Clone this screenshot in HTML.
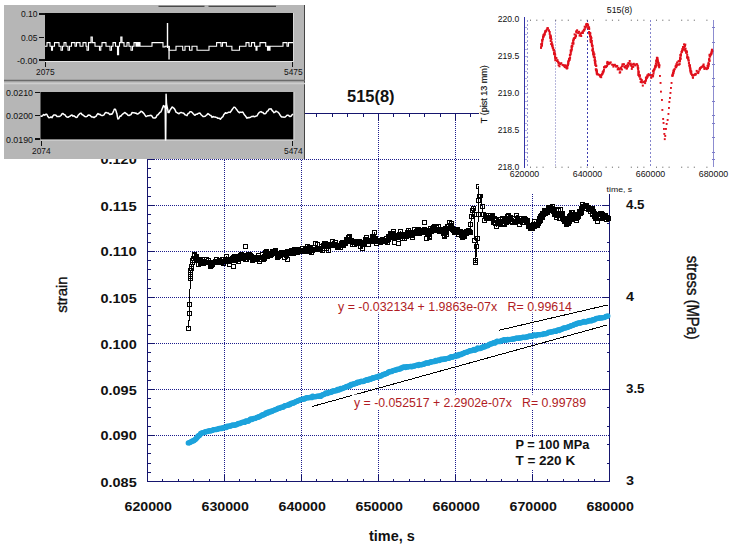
<!DOCTYPE html>
<html><head><meta charset="utf-8"><title>515(8)</title>
<style>html,body{margin:0;padding:0;background:#fff;}body{width:733px;height:549px;position:relative;overflow:hidden;font-family:"Liberation Sans",sans-serif;}</style>
</head><body>
<svg width="733" height="549" viewBox="0 0 733 549" style="position:absolute;left:0;top:0">
<rect width="733" height="549" fill="#fff"/>
<g stroke="#1c1c8c" stroke-width="1" stroke-dasharray="1 1" shape-rendering="crispEdges" fill="none">
<line x1="147.5" y1="435.5" x2="609.5" y2="435.5"/>
<line x1="147.5" y1="389.5" x2="609.5" y2="389.5"/>
<line x1="147.5" y1="343.5" x2="609.5" y2="343.5"/>
<line x1="147.5" y1="297.5" x2="609.5" y2="297.5"/>
<line x1="147.5" y1="251.5" x2="609.5" y2="251.5"/>
<line x1="147.5" y1="205.5" x2="609.5" y2="205.5"/>
<line x1="147.5" y1="159.5" x2="609.5" y2="159.5"/>
<line x1="224.5" y1="113.5" x2="224.5" y2="481.5"/>
<line x1="301.5" y1="113.5" x2="301.5" y2="481.5"/>
<line x1="378.5" y1="113.5" x2="378.5" y2="481.5"/>
<line x1="455.5" y1="113.5" x2="455.5" y2="481.5"/>
<line x1="532.5" y1="113.5" x2="532.5" y2="481.5"/>
</g>
<g stroke="#16166e" stroke-width="1" shape-rendering="crispEdges" fill="none">
<rect x="147.5" y="113.5" width="462.0" height="368.0"/>
<line x1="147.5" y1="481.5" x2="154.5" y2="481.5"/>
<line x1="147.5" y1="472.5" x2="150.5" y2="472.5"/>
<line x1="147.5" y1="463.5" x2="150.5" y2="463.5"/>
<line x1="147.5" y1="453.5" x2="150.5" y2="453.5"/>
<line x1="147.5" y1="444.5" x2="150.5" y2="444.5"/>
<line x1="147.5" y1="435.5" x2="154.5" y2="435.5"/>
<line x1="147.5" y1="426.5" x2="150.5" y2="426.5"/>
<line x1="147.5" y1="417.5" x2="150.5" y2="417.5"/>
<line x1="147.5" y1="407.5" x2="150.5" y2="407.5"/>
<line x1="147.5" y1="398.5" x2="150.5" y2="398.5"/>
<line x1="147.5" y1="389.5" x2="154.5" y2="389.5"/>
<line x1="147.5" y1="380.5" x2="150.5" y2="380.5"/>
<line x1="147.5" y1="371.5" x2="150.5" y2="371.5"/>
<line x1="147.5" y1="361.5" x2="150.5" y2="361.5"/>
<line x1="147.5" y1="352.5" x2="150.5" y2="352.5"/>
<line x1="147.5" y1="343.5" x2="154.5" y2="343.5"/>
<line x1="147.5" y1="334.5" x2="150.5" y2="334.5"/>
<line x1="147.5" y1="325.5" x2="150.5" y2="325.5"/>
<line x1="147.5" y1="315.5" x2="150.5" y2="315.5"/>
<line x1="147.5" y1="306.5" x2="150.5" y2="306.5"/>
<line x1="147.5" y1="297.5" x2="154.5" y2="297.5"/>
<line x1="147.5" y1="288.5" x2="150.5" y2="288.5"/>
<line x1="147.5" y1="279.5" x2="150.5" y2="279.5"/>
<line x1="147.5" y1="269.5" x2="150.5" y2="269.5"/>
<line x1="147.5" y1="260.5" x2="150.5" y2="260.5"/>
<line x1="147.5" y1="251.5" x2="154.5" y2="251.5"/>
<line x1="147.5" y1="242.5" x2="150.5" y2="242.5"/>
<line x1="147.5" y1="233.5" x2="150.5" y2="233.5"/>
<line x1="147.5" y1="223.5" x2="150.5" y2="223.5"/>
<line x1="147.5" y1="214.5" x2="150.5" y2="214.5"/>
<line x1="147.5" y1="205.5" x2="154.5" y2="205.5"/>
<line x1="147.5" y1="196.5" x2="150.5" y2="196.5"/>
<line x1="147.5" y1="187.5" x2="150.5" y2="187.5"/>
<line x1="147.5" y1="177.5" x2="150.5" y2="177.5"/>
<line x1="147.5" y1="168.5" x2="150.5" y2="168.5"/>
<line x1="147.5" y1="159.5" x2="154.5" y2="159.5"/>
<line x1="147.5" y1="150.5" x2="150.5" y2="150.5"/>
<line x1="147.5" y1="141.5" x2="150.5" y2="141.5"/>
<line x1="147.5" y1="131.5" x2="150.5" y2="131.5"/>
<line x1="147.5" y1="122.5" x2="150.5" y2="122.5"/>
<line x1="147.5" y1="113.5" x2="154.5" y2="113.5"/>
<line x1="609.5" y1="481.5" x2="602.5" y2="481.5"/>
<line x1="609.5" y1="463.5" x2="606.5" y2="463.5"/>
<line x1="609.5" y1="444.5" x2="606.5" y2="444.5"/>
<line x1="609.5" y1="426.5" x2="606.5" y2="426.5"/>
<line x1="609.5" y1="407.5" x2="606.5" y2="407.5"/>
<line x1="609.5" y1="389.5" x2="602.5" y2="389.5"/>
<line x1="609.5" y1="371.5" x2="606.5" y2="371.5"/>
<line x1="609.5" y1="352.5" x2="606.5" y2="352.5"/>
<line x1="609.5" y1="334.5" x2="606.5" y2="334.5"/>
<line x1="609.5" y1="315.5" x2="606.5" y2="315.5"/>
<line x1="609.5" y1="297.5" x2="602.5" y2="297.5"/>
<line x1="609.5" y1="279.5" x2="606.5" y2="279.5"/>
<line x1="609.5" y1="260.5" x2="606.5" y2="260.5"/>
<line x1="609.5" y1="242.5" x2="606.5" y2="242.5"/>
<line x1="609.5" y1="223.5" x2="606.5" y2="223.5"/>
<line x1="609.5" y1="205.5" x2="602.5" y2="205.5"/>
<line x1="609.5" y1="187.5" x2="606.5" y2="187.5"/>
<line x1="609.5" y1="168.5" x2="606.5" y2="168.5"/>
<line x1="609.5" y1="150.5" x2="606.5" y2="150.5"/>
<line x1="609.5" y1="131.5" x2="606.5" y2="131.5"/>
<line x1="609.5" y1="113.5" x2="602.5" y2="113.5"/>
<line x1="147.5" y1="481.5" x2="147.5" y2="474.5"/>
<line x1="147.5" y1="113.5" x2="147.5" y2="120.5"/>
<line x1="162.5" y1="481.5" x2="162.5" y2="478.5"/>
<line x1="162.5" y1="113.5" x2="162.5" y2="116.5"/>
<line x1="178.5" y1="481.5" x2="178.5" y2="478.5"/>
<line x1="178.5" y1="113.5" x2="178.5" y2="116.5"/>
<line x1="193.5" y1="481.5" x2="193.5" y2="478.5"/>
<line x1="193.5" y1="113.5" x2="193.5" y2="116.5"/>
<line x1="209.5" y1="481.5" x2="209.5" y2="478.5"/>
<line x1="209.5" y1="113.5" x2="209.5" y2="116.5"/>
<line x1="224.5" y1="481.5" x2="224.5" y2="474.5"/>
<line x1="224.5" y1="113.5" x2="224.5" y2="120.5"/>
<line x1="239.5" y1="481.5" x2="239.5" y2="478.5"/>
<line x1="239.5" y1="113.5" x2="239.5" y2="116.5"/>
<line x1="255.5" y1="481.5" x2="255.5" y2="478.5"/>
<line x1="255.5" y1="113.5" x2="255.5" y2="116.5"/>
<line x1="270.5" y1="481.5" x2="270.5" y2="478.5"/>
<line x1="270.5" y1="113.5" x2="270.5" y2="116.5"/>
<line x1="286.5" y1="481.5" x2="286.5" y2="478.5"/>
<line x1="286.5" y1="113.5" x2="286.5" y2="116.5"/>
<line x1="301.5" y1="481.5" x2="301.5" y2="474.5"/>
<line x1="301.5" y1="113.5" x2="301.5" y2="120.5"/>
<line x1="316.5" y1="481.5" x2="316.5" y2="478.5"/>
<line x1="316.5" y1="113.5" x2="316.5" y2="116.5"/>
<line x1="332.5" y1="481.5" x2="332.5" y2="478.5"/>
<line x1="332.5" y1="113.5" x2="332.5" y2="116.5"/>
<line x1="347.5" y1="481.5" x2="347.5" y2="478.5"/>
<line x1="347.5" y1="113.5" x2="347.5" y2="116.5"/>
<line x1="363.5" y1="481.5" x2="363.5" y2="478.5"/>
<line x1="363.5" y1="113.5" x2="363.5" y2="116.5"/>
<line x1="378.5" y1="481.5" x2="378.5" y2="474.5"/>
<line x1="378.5" y1="113.5" x2="378.5" y2="120.5"/>
<line x1="393.5" y1="481.5" x2="393.5" y2="478.5"/>
<line x1="393.5" y1="113.5" x2="393.5" y2="116.5"/>
<line x1="409.5" y1="481.5" x2="409.5" y2="478.5"/>
<line x1="409.5" y1="113.5" x2="409.5" y2="116.5"/>
<line x1="424.5" y1="481.5" x2="424.5" y2="478.5"/>
<line x1="424.5" y1="113.5" x2="424.5" y2="116.5"/>
<line x1="440.5" y1="481.5" x2="440.5" y2="478.5"/>
<line x1="440.5" y1="113.5" x2="440.5" y2="116.5"/>
<line x1="455.5" y1="481.5" x2="455.5" y2="474.5"/>
<line x1="455.5" y1="113.5" x2="455.5" y2="120.5"/>
<line x1="470.5" y1="481.5" x2="470.5" y2="478.5"/>
<line x1="470.5" y1="113.5" x2="470.5" y2="116.5"/>
<line x1="486.5" y1="481.5" x2="486.5" y2="478.5"/>
<line x1="486.5" y1="113.5" x2="486.5" y2="116.5"/>
<line x1="501.5" y1="481.5" x2="501.5" y2="478.5"/>
<line x1="501.5" y1="113.5" x2="501.5" y2="116.5"/>
<line x1="517.5" y1="481.5" x2="517.5" y2="478.5"/>
<line x1="517.5" y1="113.5" x2="517.5" y2="116.5"/>
<line x1="532.5" y1="481.5" x2="532.5" y2="474.5"/>
<line x1="532.5" y1="113.5" x2="532.5" y2="120.5"/>
<line x1="547.5" y1="481.5" x2="547.5" y2="478.5"/>
<line x1="547.5" y1="113.5" x2="547.5" y2="116.5"/>
<line x1="563.5" y1="481.5" x2="563.5" y2="478.5"/>
<line x1="563.5" y1="113.5" x2="563.5" y2="116.5"/>
<line x1="578.5" y1="481.5" x2="578.5" y2="478.5"/>
<line x1="578.5" y1="113.5" x2="578.5" y2="116.5"/>
<line x1="594.5" y1="481.5" x2="594.5" y2="478.5"/>
<line x1="594.5" y1="113.5" x2="594.5" y2="116.5"/>
<line x1="609.5" y1="481.5" x2="609.5" y2="474.5"/>
<line x1="609.5" y1="113.5" x2="609.5" y2="120.5"/>
</g>
<g stroke="#000" stroke-width="1" fill="none" shape-rendering="crispEdges">
<line x1="499.2" y1="330.2" x2="607.5" y2="305.0"/>
<line x1="312.1" y1="406.5" x2="607" y2="325.0"/>
</g>
<g fill="#1da3dc">
<circle cx="188.3" cy="442.9" r="2.65"/>
<circle cx="189.2" cy="442.8" r="2.65"/>
<circle cx="190.2" cy="442.2" r="2.65"/>
<circle cx="191.1" cy="441.8" r="2.65"/>
<circle cx="192.0" cy="441.2" r="2.65"/>
<circle cx="192.8" cy="440.9" r="2.65"/>
<circle cx="193.7" cy="440.7" r="2.65"/>
<circle cx="194.5" cy="440.0" r="2.65"/>
<circle cx="195.3" cy="439.6" r="2.65"/>
<circle cx="196.0" cy="438.7" r="2.65"/>
<circle cx="196.7" cy="438.0" r="2.65"/>
<circle cx="197.3" cy="437.3" r="2.65"/>
<circle cx="198.0" cy="436.0" r="2.65"/>
<circle cx="198.7" cy="436.1" r="2.65"/>
<circle cx="199.3" cy="435.4" r="2.65"/>
<circle cx="200.0" cy="434.8" r="2.65"/>
<circle cx="200.7" cy="433.5" r="2.65"/>
<circle cx="201.5" cy="433.1" r="2.65"/>
<circle cx="202.3" cy="432.9" r="2.65"/>
<circle cx="203.2" cy="432.6" r="2.65"/>
<circle cx="204.0" cy="432.4" r="2.65"/>
<circle cx="204.9" cy="432.0" r="2.65"/>
<circle cx="205.8" cy="431.9" r="2.65"/>
<circle cx="206.6" cy="431.3" r="2.65"/>
<circle cx="207.5" cy="431.4" r="2.65"/>
<circle cx="208.4" cy="431.1" r="2.65"/>
<circle cx="209.3" cy="430.6" r="2.65"/>
<circle cx="210.2" cy="431.1" r="2.65"/>
<circle cx="211.1" cy="430.6" r="2.65"/>
<circle cx="212.0" cy="430.6" r="2.65"/>
<circle cx="212.9" cy="429.9" r="2.65"/>
<circle cx="213.8" cy="429.6" r="2.65"/>
<circle cx="214.7" cy="429.6" r="2.65"/>
<circle cx="215.6" cy="429.5" r="2.65"/>
<circle cx="216.5" cy="429.5" r="2.65"/>
<circle cx="217.4" cy="429.2" r="2.65"/>
<circle cx="218.3" cy="428.8" r="2.65"/>
<circle cx="219.2" cy="428.5" r="2.65"/>
<circle cx="220.1" cy="428.4" r="2.65"/>
<circle cx="221.0" cy="428.7" r="2.65"/>
<circle cx="221.9" cy="427.9" r="2.65"/>
<circle cx="222.8" cy="428.1" r="2.65"/>
<circle cx="223.7" cy="427.9" r="2.65"/>
<circle cx="224.6" cy="427.1" r="2.65"/>
<circle cx="225.4" cy="427.3" r="2.65"/>
<circle cx="226.3" cy="427.5" r="2.65"/>
<circle cx="227.2" cy="426.2" r="2.65"/>
<circle cx="228.1" cy="426.5" r="2.65"/>
<circle cx="228.9" cy="426.3" r="2.65"/>
<circle cx="229.8" cy="425.9" r="2.65"/>
<circle cx="230.7" cy="426.0" r="2.65"/>
<circle cx="231.5" cy="425.6" r="2.65"/>
<circle cx="232.4" cy="425.0" r="2.65"/>
<circle cx="233.3" cy="425.4" r="2.65"/>
<circle cx="234.2" cy="425.1" r="2.65"/>
<circle cx="235.0" cy="425.0" r="2.65"/>
<circle cx="235.9" cy="424.9" r="2.65"/>
<circle cx="236.8" cy="424.3" r="2.65"/>
<circle cx="237.7" cy="424.0" r="2.65"/>
<circle cx="238.5" cy="423.3" r="2.65"/>
<circle cx="239.4" cy="423.7" r="2.65"/>
<circle cx="240.3" cy="423.1" r="2.65"/>
<circle cx="241.1" cy="422.9" r="2.65"/>
<circle cx="242.0" cy="422.4" r="2.65"/>
<circle cx="242.9" cy="422.2" r="2.65"/>
<circle cx="243.8" cy="422.1" r="2.65"/>
<circle cx="244.6" cy="422.4" r="2.65"/>
<circle cx="245.5" cy="421.2" r="2.65"/>
<circle cx="246.4" cy="421.0" r="2.65"/>
<circle cx="247.3" cy="421.2" r="2.65"/>
<circle cx="248.2" cy="421.2" r="2.65"/>
<circle cx="249.1" cy="420.6" r="2.65"/>
<circle cx="250.0" cy="419.5" r="2.65"/>
<circle cx="250.9" cy="418.9" r="2.65"/>
<circle cx="251.9" cy="419.5" r="2.65"/>
<circle cx="252.8" cy="418.8" r="2.65"/>
<circle cx="253.7" cy="418.3" r="2.65"/>
<circle cx="254.6" cy="418.6" r="2.65"/>
<circle cx="255.5" cy="418.3" r="2.65"/>
<circle cx="256.4" cy="417.6" r="2.65"/>
<circle cx="257.3" cy="417.3" r="2.65"/>
<circle cx="258.1" cy="417.0" r="2.65"/>
<circle cx="259.0" cy="417.0" r="2.65"/>
<circle cx="259.8" cy="416.3" r="2.65"/>
<circle cx="260.7" cy="416.0" r="2.65"/>
<circle cx="261.5" cy="415.6" r="2.65"/>
<circle cx="262.4" cy="414.6" r="2.65"/>
<circle cx="263.2" cy="415.1" r="2.65"/>
<circle cx="264.1" cy="414.6" r="2.65"/>
<circle cx="264.9" cy="414.2" r="2.65"/>
<circle cx="265.8" cy="413.0" r="2.65"/>
<circle cx="266.6" cy="413.1" r="2.65"/>
<circle cx="267.5" cy="413.2" r="2.65"/>
<circle cx="268.3" cy="412.0" r="2.65"/>
<circle cx="269.2" cy="412.1" r="2.65"/>
<circle cx="270.0" cy="412.1" r="2.65"/>
<circle cx="270.9" cy="411.1" r="2.65"/>
<circle cx="271.7" cy="411.6" r="2.65"/>
<circle cx="272.6" cy="410.9" r="2.65"/>
<circle cx="273.4" cy="410.3" r="2.65"/>
<circle cx="274.3" cy="410.1" r="2.65"/>
<circle cx="275.1" cy="409.9" r="2.65"/>
<circle cx="276.0" cy="409.3" r="2.65"/>
<circle cx="276.9" cy="409.3" r="2.65"/>
<circle cx="277.8" cy="408.5" r="2.65"/>
<circle cx="278.6" cy="408.2" r="2.65"/>
<circle cx="279.5" cy="408.3" r="2.65"/>
<circle cx="280.4" cy="407.7" r="2.65"/>
<circle cx="281.3" cy="407.1" r="2.65"/>
<circle cx="282.2" cy="407.3" r="2.65"/>
<circle cx="283.0" cy="407.2" r="2.65"/>
<circle cx="283.9" cy="406.3" r="2.65"/>
<circle cx="284.8" cy="405.7" r="2.65"/>
<circle cx="285.7" cy="405.7" r="2.65"/>
<circle cx="286.6" cy="405.4" r="2.65"/>
<circle cx="287.4" cy="405.1" r="2.65"/>
<circle cx="288.3" cy="405.2" r="2.65"/>
<circle cx="289.2" cy="404.2" r="2.65"/>
<circle cx="290.1" cy="404.5" r="2.65"/>
<circle cx="290.9" cy="403.4" r="2.65"/>
<circle cx="291.8" cy="403.1" r="2.65"/>
<circle cx="292.6" cy="403.2" r="2.65"/>
<circle cx="293.5" cy="403.0" r="2.65"/>
<circle cx="294.3" cy="402.5" r="2.65"/>
<circle cx="295.2" cy="402.0" r="2.65"/>
<circle cx="296.1" cy="401.6" r="2.65"/>
<circle cx="296.9" cy="401.2" r="2.65"/>
<circle cx="297.8" cy="401.0" r="2.65"/>
<circle cx="298.6" cy="400.4" r="2.65"/>
<circle cx="299.5" cy="400.1" r="2.65"/>
<circle cx="300.3" cy="399.8" r="2.65"/>
<circle cx="301.2" cy="399.3" r="2.65"/>
<circle cx="302.2" cy="399.3" r="2.65"/>
<circle cx="303.1" cy="399.0" r="2.65"/>
<circle cx="304.1" cy="399.2" r="2.65"/>
<circle cx="305.1" cy="398.4" r="2.65"/>
<circle cx="306.1" cy="398.0" r="2.65"/>
<circle cx="307.0" cy="397.7" r="2.65"/>
<circle cx="308.0" cy="397.6" r="2.65"/>
<circle cx="308.9" cy="397.8" r="2.65"/>
<circle cx="309.8" cy="397.3" r="2.65"/>
<circle cx="310.7" cy="397.3" r="2.65"/>
<circle cx="311.6" cy="397.7" r="2.65"/>
<circle cx="312.5" cy="396.2" r="2.65"/>
<circle cx="313.4" cy="396.5" r="2.65"/>
<circle cx="314.3" cy="396.8" r="2.65"/>
<circle cx="315.2" cy="396.7" r="2.65"/>
<circle cx="316.1" cy="396.6" r="2.65"/>
<circle cx="317.0" cy="396.2" r="2.65"/>
<circle cx="317.9" cy="396.4" r="2.65"/>
<circle cx="318.8" cy="396.2" r="2.65"/>
<circle cx="319.7" cy="395.8" r="2.65"/>
<circle cx="320.6" cy="396.4" r="2.65"/>
<circle cx="321.4" cy="395.5" r="2.65"/>
<circle cx="322.3" cy="394.9" r="2.65"/>
<circle cx="323.1" cy="394.7" r="2.65"/>
<circle cx="324.0" cy="394.3" r="2.65"/>
<circle cx="324.9" cy="394.1" r="2.65"/>
<circle cx="325.7" cy="393.0" r="2.65"/>
<circle cx="326.6" cy="393.3" r="2.65"/>
<circle cx="327.4" cy="393.5" r="2.65"/>
<circle cx="328.3" cy="392.5" r="2.65"/>
<circle cx="329.1" cy="392.5" r="2.65"/>
<circle cx="330.0" cy="392.5" r="2.65"/>
<circle cx="330.9" cy="392.2" r="2.65"/>
<circle cx="331.8" cy="392.1" r="2.65"/>
<circle cx="332.7" cy="390.9" r="2.65"/>
<circle cx="333.6" cy="391.0" r="2.65"/>
<circle cx="334.5" cy="390.8" r="2.65"/>
<circle cx="335.5" cy="390.8" r="2.65"/>
<circle cx="336.4" cy="390.7" r="2.65"/>
<circle cx="337.3" cy="389.3" r="2.65"/>
<circle cx="338.2" cy="390.2" r="2.65"/>
<circle cx="339.1" cy="389.1" r="2.65"/>
<circle cx="340.0" cy="389.5" r="2.65"/>
<circle cx="340.8" cy="388.5" r="2.65"/>
<circle cx="341.7" cy="388.7" r="2.65"/>
<circle cx="342.5" cy="388.6" r="2.65"/>
<circle cx="343.4" cy="387.9" r="2.65"/>
<circle cx="344.2" cy="387.6" r="2.65"/>
<circle cx="345.1" cy="387.5" r="2.65"/>
<circle cx="345.9" cy="386.9" r="2.65"/>
<circle cx="346.7" cy="386.5" r="2.65"/>
<circle cx="347.6" cy="386.7" r="2.65"/>
<circle cx="348.4" cy="386.2" r="2.65"/>
<circle cx="349.3" cy="385.4" r="2.65"/>
<circle cx="350.1" cy="386.0" r="2.65"/>
<circle cx="351.0" cy="384.5" r="2.65"/>
<circle cx="351.8" cy="384.8" r="2.65"/>
<circle cx="352.7" cy="384.2" r="2.65"/>
<circle cx="353.5" cy="384.0" r="2.65"/>
<circle cx="354.4" cy="383.9" r="2.65"/>
<circle cx="355.3" cy="383.5" r="2.65"/>
<circle cx="356.2" cy="383.4" r="2.65"/>
<circle cx="357.0" cy="382.5" r="2.65"/>
<circle cx="357.9" cy="382.2" r="2.65"/>
<circle cx="358.8" cy="382.6" r="2.65"/>
<circle cx="359.7" cy="381.8" r="2.65"/>
<circle cx="360.5" cy="381.6" r="2.65"/>
<circle cx="361.4" cy="381.2" r="2.65"/>
<circle cx="362.3" cy="381.7" r="2.65"/>
<circle cx="363.2" cy="381.3" r="2.65"/>
<circle cx="364.0" cy="381.3" r="2.65"/>
<circle cx="364.9" cy="380.3" r="2.65"/>
<circle cx="365.8" cy="380.3" r="2.65"/>
<circle cx="366.6" cy="379.7" r="2.65"/>
<circle cx="367.5" cy="380.0" r="2.65"/>
<circle cx="368.4" cy="380.0" r="2.65"/>
<circle cx="369.3" cy="379.0" r="2.65"/>
<circle cx="370.1" cy="379.4" r="2.65"/>
<circle cx="371.0" cy="379.0" r="2.65"/>
<circle cx="371.9" cy="378.4" r="2.65"/>
<circle cx="372.8" cy="377.6" r="2.65"/>
<circle cx="373.6" cy="378.3" r="2.65"/>
<circle cx="374.5" cy="377.6" r="2.65"/>
<circle cx="375.4" cy="377.2" r="2.65"/>
<circle cx="376.3" cy="377.2" r="2.65"/>
<circle cx="377.1" cy="377.0" r="2.65"/>
<circle cx="378.0" cy="377.0" r="2.65"/>
<circle cx="378.9" cy="376.0" r="2.65"/>
<circle cx="379.8" cy="376.3" r="2.65"/>
<circle cx="380.6" cy="376.0" r="2.65"/>
<circle cx="381.5" cy="375.7" r="2.65"/>
<circle cx="382.4" cy="374.8" r="2.65"/>
<circle cx="383.2" cy="374.3" r="2.65"/>
<circle cx="384.1" cy="374.5" r="2.65"/>
<circle cx="385.0" cy="373.9" r="2.65"/>
<circle cx="385.9" cy="373.6" r="2.65"/>
<circle cx="386.8" cy="373.6" r="2.65"/>
<circle cx="387.6" cy="372.8" r="2.65"/>
<circle cx="388.5" cy="371.8" r="2.65"/>
<circle cx="389.4" cy="372.1" r="2.65"/>
<circle cx="390.2" cy="371.3" r="2.65"/>
<circle cx="391.1" cy="371.7" r="2.65"/>
<circle cx="392.0" cy="371.3" r="2.65"/>
<circle cx="392.9" cy="370.6" r="2.65"/>
<circle cx="393.8" cy="370.5" r="2.65"/>
<circle cx="394.6" cy="370.4" r="2.65"/>
<circle cx="395.5" cy="369.8" r="2.65"/>
<circle cx="396.4" cy="369.9" r="2.65"/>
<circle cx="397.4" cy="369.2" r="2.65"/>
<circle cx="398.3" cy="369.3" r="2.65"/>
<circle cx="399.2" cy="369.1" r="2.65"/>
<circle cx="400.1" cy="368.9" r="2.65"/>
<circle cx="401.1" cy="367.9" r="2.65"/>
<circle cx="402.0" cy="368.1" r="2.65"/>
<circle cx="402.9" cy="367.1" r="2.65"/>
<circle cx="403.8" cy="367.2" r="2.65"/>
<circle cx="404.7" cy="366.8" r="2.65"/>
<circle cx="405.6" cy="367.6" r="2.65"/>
<circle cx="406.5" cy="366.7" r="2.65"/>
<circle cx="407.4" cy="366.9" r="2.65"/>
<circle cx="408.3" cy="366.8" r="2.65"/>
<circle cx="409.2" cy="366.7" r="2.65"/>
<circle cx="410.1" cy="366.4" r="2.65"/>
<circle cx="411.0" cy="366.5" r="2.65"/>
<circle cx="411.9" cy="366.8" r="2.65"/>
<circle cx="412.8" cy="366.1" r="2.65"/>
<circle cx="413.7" cy="366.1" r="2.65"/>
<circle cx="414.6" cy="366.1" r="2.65"/>
<circle cx="415.5" cy="365.6" r="2.65"/>
<circle cx="416.4" cy="365.2" r="2.65"/>
<circle cx="417.3" cy="365.2" r="2.65"/>
<circle cx="418.2" cy="365.5" r="2.65"/>
<circle cx="419.1" cy="364.5" r="2.65"/>
<circle cx="420.0" cy="364.6" r="2.65"/>
<circle cx="420.9" cy="364.9" r="2.65"/>
<circle cx="421.9" cy="364.6" r="2.65"/>
<circle cx="422.8" cy="364.2" r="2.65"/>
<circle cx="423.7" cy="364.2" r="2.65"/>
<circle cx="424.6" cy="363.8" r="2.65"/>
<circle cx="425.5" cy="363.2" r="2.65"/>
<circle cx="426.4" cy="362.8" r="2.65"/>
<circle cx="427.3" cy="362.9" r="2.65"/>
<circle cx="428.2" cy="363.2" r="2.65"/>
<circle cx="429.2" cy="362.5" r="2.65"/>
<circle cx="430.1" cy="362.2" r="2.65"/>
<circle cx="431.0" cy="362.0" r="2.65"/>
<circle cx="431.9" cy="361.6" r="2.65"/>
<circle cx="432.8" cy="361.8" r="2.65"/>
<circle cx="433.7" cy="361.3" r="2.65"/>
<circle cx="434.6" cy="361.6" r="2.65"/>
<circle cx="435.6" cy="360.5" r="2.65"/>
<circle cx="436.5" cy="361.1" r="2.65"/>
<circle cx="437.4" cy="360.6" r="2.65"/>
<circle cx="438.3" cy="360.0" r="2.65"/>
<circle cx="439.2" cy="360.6" r="2.65"/>
<circle cx="440.1" cy="360.1" r="2.65"/>
<circle cx="441.0" cy="359.2" r="2.65"/>
<circle cx="441.9" cy="359.4" r="2.65"/>
<circle cx="442.8" cy="359.5" r="2.65"/>
<circle cx="443.7" cy="359.0" r="2.65"/>
<circle cx="444.6" cy="359.2" r="2.65"/>
<circle cx="445.5" cy="358.9" r="2.65"/>
<circle cx="446.4" cy="358.6" r="2.65"/>
<circle cx="447.4" cy="358.3" r="2.65"/>
<circle cx="448.3" cy="358.4" r="2.65"/>
<circle cx="449.2" cy="357.9" r="2.65"/>
<circle cx="450.1" cy="357.6" r="2.65"/>
<circle cx="451.0" cy="356.6" r="2.65"/>
<circle cx="451.9" cy="357.2" r="2.65"/>
<circle cx="452.8" cy="357.1" r="2.65"/>
<circle cx="453.7" cy="356.4" r="2.65"/>
<circle cx="454.6" cy="356.1" r="2.65"/>
<circle cx="455.5" cy="356.6" r="2.65"/>
<circle cx="456.4" cy="355.2" r="2.65"/>
<circle cx="457.3" cy="355.5" r="2.65"/>
<circle cx="458.2" cy="355.8" r="2.65"/>
<circle cx="459.1" cy="354.5" r="2.65"/>
<circle cx="459.9" cy="354.6" r="2.65"/>
<circle cx="460.8" cy="354.7" r="2.65"/>
<circle cx="461.7" cy="353.8" r="2.65"/>
<circle cx="462.6" cy="353.7" r="2.65"/>
<circle cx="463.5" cy="353.5" r="2.65"/>
<circle cx="464.4" cy="352.6" r="2.65"/>
<circle cx="465.3" cy="352.5" r="2.65"/>
<circle cx="466.1" cy="352.3" r="2.65"/>
<circle cx="467.0" cy="352.2" r="2.65"/>
<circle cx="467.9" cy="351.6" r="2.65"/>
<circle cx="468.8" cy="351.3" r="2.65"/>
<circle cx="469.7" cy="350.7" r="2.65"/>
<circle cx="470.6" cy="350.6" r="2.65"/>
<circle cx="471.4" cy="350.8" r="2.65"/>
<circle cx="472.3" cy="350.3" r="2.65"/>
<circle cx="473.2" cy="349.8" r="2.65"/>
<circle cx="474.1" cy="349.5" r="2.65"/>
<circle cx="474.9" cy="350.3" r="2.65"/>
<circle cx="475.8" cy="349.6" r="2.65"/>
<circle cx="476.7" cy="349.2" r="2.65"/>
<circle cx="477.6" cy="348.0" r="2.65"/>
<circle cx="478.4" cy="348.7" r="2.65"/>
<circle cx="479.3" cy="348.4" r="2.65"/>
<circle cx="480.2" cy="348.5" r="2.65"/>
<circle cx="481.1" cy="347.9" r="2.65"/>
<circle cx="481.9" cy="347.5" r="2.65"/>
<circle cx="482.8" cy="347.5" r="2.65"/>
<circle cx="483.7" cy="346.3" r="2.65"/>
<circle cx="484.6" cy="346.9" r="2.65"/>
<circle cx="485.5" cy="346.3" r="2.65"/>
<circle cx="486.4" cy="345.6" r="2.65"/>
<circle cx="487.3" cy="345.8" r="2.65"/>
<circle cx="488.2" cy="345.6" r="2.65"/>
<circle cx="489.1" cy="344.3" r="2.65"/>
<circle cx="490.0" cy="344.1" r="2.65"/>
<circle cx="490.9" cy="344.0" r="2.65"/>
<circle cx="491.8" cy="343.7" r="2.65"/>
<circle cx="492.8" cy="343.1" r="2.65"/>
<circle cx="493.7" cy="342.6" r="2.65"/>
<circle cx="494.6" cy="343.2" r="2.65"/>
<circle cx="495.5" cy="342.5" r="2.65"/>
<circle cx="496.5" cy="341.5" r="2.65"/>
<circle cx="497.4" cy="341.1" r="2.65"/>
<circle cx="498.3" cy="341.7" r="2.65"/>
<circle cx="499.2" cy="341.4" r="2.65"/>
<circle cx="500.2" cy="341.5" r="2.65"/>
<circle cx="501.1" cy="341.0" r="2.65"/>
<circle cx="502.0" cy="340.4" r="2.65"/>
<circle cx="502.9" cy="340.6" r="2.65"/>
<circle cx="503.9" cy="339.7" r="2.65"/>
<circle cx="504.8" cy="340.0" r="2.65"/>
<circle cx="505.7" cy="340.0" r="2.65"/>
<circle cx="506.6" cy="340.1" r="2.65"/>
<circle cx="507.6" cy="339.5" r="2.65"/>
<circle cx="508.5" cy="339.6" r="2.65"/>
<circle cx="509.4" cy="339.6" r="2.65"/>
<circle cx="510.4" cy="339.4" r="2.65"/>
<circle cx="511.3" cy="339.4" r="2.65"/>
<circle cx="512.2" cy="339.1" r="2.65"/>
<circle cx="513.1" cy="338.8" r="2.65"/>
<circle cx="514.1" cy="339.0" r="2.65"/>
<circle cx="515.0" cy="338.6" r="2.65"/>
<circle cx="515.9" cy="338.2" r="2.65"/>
<circle cx="516.8" cy="338.2" r="2.65"/>
<circle cx="517.7" cy="338.2" r="2.65"/>
<circle cx="518.6" cy="338.1" r="2.65"/>
<circle cx="519.5" cy="338.0" r="2.65"/>
<circle cx="520.4" cy="337.8" r="2.65"/>
<circle cx="521.3" cy="337.8" r="2.65"/>
<circle cx="522.2" cy="337.5" r="2.65"/>
<circle cx="523.1" cy="337.1" r="2.65"/>
<circle cx="524.0" cy="337.4" r="2.65"/>
<circle cx="524.9" cy="337.5" r="2.65"/>
<circle cx="525.8" cy="337.2" r="2.65"/>
<circle cx="526.7" cy="336.9" r="2.65"/>
<circle cx="527.6" cy="336.9" r="2.65"/>
<circle cx="528.5" cy="336.4" r="2.65"/>
<circle cx="529.4" cy="336.0" r="2.65"/>
<circle cx="530.3" cy="336.4" r="2.65"/>
<circle cx="531.2" cy="336.0" r="2.65"/>
<circle cx="532.1" cy="336.3" r="2.65"/>
<circle cx="533.0" cy="335.6" r="2.65"/>
<circle cx="534.0" cy="335.0" r="2.65"/>
<circle cx="534.9" cy="335.2" r="2.65"/>
<circle cx="535.8" cy="335.8" r="2.65"/>
<circle cx="536.7" cy="335.1" r="2.65"/>
<circle cx="537.6" cy="334.6" r="2.65"/>
<circle cx="538.6" cy="334.6" r="2.65"/>
<circle cx="539.5" cy="334.8" r="2.65"/>
<circle cx="540.4" cy="334.6" r="2.65"/>
<circle cx="541.3" cy="334.3" r="2.65"/>
<circle cx="542.2" cy="334.5" r="2.65"/>
<circle cx="543.2" cy="334.1" r="2.65"/>
<circle cx="544.1" cy="333.7" r="2.65"/>
<circle cx="545.0" cy="333.7" r="2.65"/>
<circle cx="545.9" cy="333.8" r="2.65"/>
<circle cx="546.8" cy="333.3" r="2.65"/>
<circle cx="547.7" cy="333.1" r="2.65"/>
<circle cx="548.6" cy="332.2" r="2.65"/>
<circle cx="549.4" cy="332.3" r="2.65"/>
<circle cx="550.3" cy="332.3" r="2.65"/>
<circle cx="551.2" cy="331.7" r="2.65"/>
<circle cx="552.1" cy="331.9" r="2.65"/>
<circle cx="553.0" cy="331.5" r="2.65"/>
<circle cx="553.9" cy="331.4" r="2.65"/>
<circle cx="554.8" cy="330.8" r="2.65"/>
<circle cx="555.7" cy="331.4" r="2.65"/>
<circle cx="556.6" cy="330.8" r="2.65"/>
<circle cx="557.4" cy="330.1" r="2.65"/>
<circle cx="558.3" cy="329.9" r="2.65"/>
<circle cx="559.2" cy="330.5" r="2.65"/>
<circle cx="560.1" cy="329.3" r="2.65"/>
<circle cx="561.0" cy="329.5" r="2.65"/>
<circle cx="561.9" cy="329.2" r="2.65"/>
<circle cx="562.8" cy="328.6" r="2.65"/>
<circle cx="563.6" cy="328.0" r="2.65"/>
<circle cx="564.5" cy="328.1" r="2.65"/>
<circle cx="565.4" cy="327.8" r="2.65"/>
<circle cx="566.2" cy="327.8" r="2.65"/>
<circle cx="567.1" cy="327.4" r="2.65"/>
<circle cx="568.0" cy="326.9" r="2.65"/>
<circle cx="568.9" cy="326.8" r="2.65"/>
<circle cx="569.8" cy="326.4" r="2.65"/>
<circle cx="570.6" cy="326.0" r="2.65"/>
<circle cx="571.5" cy="325.7" r="2.65"/>
<circle cx="572.4" cy="325.3" r="2.65"/>
<circle cx="573.2" cy="325.3" r="2.65"/>
<circle cx="574.1" cy="324.5" r="2.65"/>
<circle cx="575.0" cy="324.3" r="2.65"/>
<circle cx="575.9" cy="324.2" r="2.65"/>
<circle cx="576.8" cy="323.5" r="2.65"/>
<circle cx="577.7" cy="323.5" r="2.65"/>
<circle cx="578.6" cy="322.8" r="2.65"/>
<circle cx="579.4" cy="322.9" r="2.65"/>
<circle cx="580.3" cy="323.0" r="2.65"/>
<circle cx="581.2" cy="322.7" r="2.65"/>
<circle cx="582.1" cy="322.3" r="2.65"/>
<circle cx="583.0" cy="321.9" r="2.65"/>
<circle cx="584.0" cy="321.4" r="2.65"/>
<circle cx="585.0" cy="322.2" r="2.65"/>
<circle cx="585.9" cy="321.7" r="2.65"/>
<circle cx="586.9" cy="321.7" r="2.65"/>
<circle cx="587.9" cy="320.9" r="2.65"/>
<circle cx="588.8" cy="321.0" r="2.65"/>
<circle cx="589.8" cy="320.3" r="2.65"/>
<circle cx="590.8" cy="320.9" r="2.65"/>
<circle cx="591.7" cy="320.7" r="2.65"/>
<circle cx="592.6" cy="319.6" r="2.65"/>
<circle cx="593.6" cy="319.9" r="2.65"/>
<circle cx="594.5" cy="319.8" r="2.65"/>
<circle cx="595.4" cy="318.8" r="2.65"/>
<circle cx="596.3" cy="318.5" r="2.65"/>
<circle cx="597.2" cy="318.5" r="2.65"/>
<circle cx="598.2" cy="318.4" r="2.65"/>
<circle cx="599.1" cy="317.8" r="2.65"/>
<circle cx="600.0" cy="318.0" r="2.65"/>
<circle cx="601.0" cy="317.9" r="2.65"/>
<circle cx="602.0" cy="317.8" r="2.65"/>
<circle cx="602.9" cy="317.6" r="2.65"/>
<circle cx="603.9" cy="317.6" r="2.65"/>
<circle cx="604.9" cy="317.3" r="2.65"/>
<circle cx="605.8" cy="316.3" r="2.65"/>
<circle cx="606.8" cy="316.4" r="2.65"/>
<circle cx="607.8" cy="316.0" r="2.65"/>
</g>
<g stroke="#000" stroke-width="1" fill="none" shape-rendering="crispEdges">
<polyline points="188.6,328.2 189.4,313.5 189.6,304.5 190.3,278.5 190.4,276.0 190.6,274.0 190.6,272.0 191.0,270.0 191.5,268.0 191.8,266.0 192.6,263.0 193.0,260.5 193.6,258.0 194.8,255.0 194.8,256.0 195.2,258.3 195.7,258.9 196.1,260.2 196.6,257.0 197.0,257.9 197.6,259.8 198.2,259.5 198.8,259.5 199.4,260.4 200.0,259.9 200.7,263.0 201.4,263.2 202.1,263.2 202.9,262.7 203.6,263.6 204.3,259.1 205.0,261.7 205.7,262.8 206.4,259.7 207.1,262.4 207.9,262.4 208.6,260.2 209.3,262.8 210.0,263.4 210.7,265.0 211.4,265.4 212.1,264.0 212.8,262.1 213.5,262.6 214.2,262.0 214.9,262.8 215.6,261.7 216.3,259.9 217.0,259.1 217.7,261.2 218.4,261.1 219.1,260.8 219.8,262.6 220.5,261.7 221.1,262.2 221.8,262.2 222.5,259.8 223.2,263.9 223.9,259.0 224.6,261.4 225.3,259.9 225.9,261.9 226.6,256.4 227.3,259.5 228.0,261.2 228.7,261.7 229.3,264.1 230.0,260.0 230.7,260.8 231.4,259.3 232.1,259.1 232.9,258.2 233.6,257.3 234.3,258.9 235.0,256.6 235.8,260.9 236.5,257.3 237.2,259.2 238.0,261.9 238.8,257.1 239.5,256.8 240.2,258.1 241.0,256.0 241.7,254.6 242.4,256.7 243.1,257.6 243.9,258.2 244.6,255.8 245.3,260.0 246.0,259.3 246.7,256.3 247.3,256.3 248.0,254.8 248.7,257.8 249.3,254.3 250.0,257.1 250.7,255.8 251.3,256.2 252.0,259.4 252.7,260.9 253.5,258.8 254.2,257.5 254.9,259.5 255.6,257.4 256.4,257.4 257.1,259.1 257.8,258.3 258.5,255.8 259.3,261.1 260.0,257.9 260.7,259.5 261.5,257.2 262.2,258.0 262.9,254.5 263.6,259.7 264.4,258.1 265.1,253.0 265.8,252.0 266.5,251.7 267.3,256.6 268.0,254.2 268.7,255.3 269.4,255.1 270.1,255.3 270.8,253.3 271.5,254.5 272.2,251.2 272.9,252.7 273.6,252.6 274.3,252.4 275.0,251.1 275.7,250.7 276.4,253.4 277.1,253.2 277.9,257.4 278.6,256.5 279.3,255.1 280.0,254.4 280.7,253.3 281.4,252.2 282.1,252.7 282.9,253.6 283.6,254.1 284.3,254.7 285.0,257.8 285.7,253.4 286.4,254.8 287.1,259.4 287.8,251.1 288.5,252.7 289.2,253.0 289.9,252.2 290.6,252.1 291.3,250.7 292.0,251.8 292.7,251.7 293.5,253.4 294.2,249.4 294.9,251.4 295.6,252.8 296.4,250.6 297.1,250.0 297.8,252.1 298.5,249.3 299.3,251.1 300.0,251.3 300.7,250.7 301.5,251.5 302.2,250.9 302.9,249.0 303.6,251.3 304.4,251.8 305.1,249.5 305.8,249.4 306.5,250.1 307.3,246.7 308.0,249.0 308.7,251.2 309.4,247.4 310.1,249.1 310.8,249.0 311.5,252.2 312.2,250.1 312.9,250.7 313.6,247.4 314.3,247.8 315.0,247.1 315.7,243.7 316.4,249.1 317.1,248.5 317.8,244.5 318.5,249.4 319.2,248.5 319.9,249.9 320.6,249.9 321.3,246.5 322.0,248.2 322.7,250.2 323.3,245.8 324.0,244.3 324.7,243.3 325.3,243.3 326.0,246.0 326.7,248.6 327.3,246.7 328.0,246.5 328.7,250.0 329.4,245.2 330.1,244.4 330.9,245.8 331.6,245.1 332.3,241.9 333.0,241.4 333.7,244.2 334.4,244.7 335.1,242.9 335.8,245.5 336.5,245.5 337.2,247.5 337.9,246.6 338.6,246.3 339.3,245.4 340.0,247.4 340.6,247.1 341.1,243.5 341.7,245.1 342.2,242.1 342.8,243.4 343.3,244.6 343.9,245.9 344.4,242.7 345.0,243.1 345.6,243.2 346.2,239.8 346.8,241.7 347.4,239.6 348.0,240.4 348.7,237.8 349.3,236.4 350.0,240.2 350.7,241.3 351.3,240.8 352.0,244.2 352.7,242.9 353.4,242.9 354.1,244.9 354.9,241.2 355.6,242.3 356.3,242.9 357.0,243.9 357.7,241.8 358.5,242.5 359.2,241.2 359.9,243.3 360.6,246.3 361.4,242.8 362.1,248.3 362.8,243.1 363.5,243.8 364.3,243.4 365.0,244.2 365.6,239.5 366.1,237.3 366.7,241.4 367.3,241.4 367.9,241.0 368.4,244.4 369.0,240.3 369.8,240.7 370.6,241.9 371.4,240.5 372.2,242.0 373.0,236.1 373.6,237.4 374.2,232.2 374.9,239.6 375.5,238.0 376.1,240.9 376.8,243.9 377.4,241.1 378.0,241.5 378.7,241.4 379.4,240.8 380.1,240.8 380.8,242.4 381.5,240.7 382.2,240.2 382.9,239.4 383.6,241.3 384.3,240.8 385.0,240.2 385.6,241.6 386.1,240.1 386.7,238.3 387.2,242.4 387.8,240.1 388.3,237.0 388.9,239.6 389.4,237.3 390.0,233.0 390.6,237.6 391.2,234.8 391.8,235.3 392.4,233.9 393.0,233.3 393.7,231.9 394.4,237.1 395.1,236.3 395.9,236.3 396.6,237.5 397.3,237.0 398.0,237.7 398.8,235.0 399.6,235.0 400.4,231.2 401.2,234.3 402.0,236.6 402.7,238.1 403.3,235.5 404.0,235.9 404.7,238.5 405.3,234.7 406.0,235.7 406.7,236.5 407.3,232.9 408.0,234.3 408.7,230.7 409.3,232.3 410.0,232.0 410.7,232.9 411.4,235.1 412.1,237.5 412.9,232.3 413.6,232.1 414.3,233.3 415.0,229.9 415.7,232.0 416.4,231.8 417.1,230.4 417.9,232.1 418.6,229.2 419.3,233.7 420.0,230.4 420.7,231.8 421.3,231.8 422.0,231.5 422.7,232.9 423.3,230.8 424.0,229.2 424.7,230.8 425.3,232.9 426.0,230.9 426.7,232.4 427.3,234.9 428.0,234.2 428.6,231.5 429.2,237.7 429.9,236.7 430.5,228.8 431.1,231.1 431.8,230.9 432.4,230.9 433.0,229.6 433.7,227.7 434.3,226.3 435.0,228.5 435.7,230.4 436.3,227.1 437.0,227.4 437.6,229.7 438.1,226.9 438.7,230.0 439.3,229.8 439.9,231.3 440.4,229.4 441.0,229.2 441.6,230.3 442.2,231.4 442.8,231.1 443.4,233.2 444.0,235.5 444.3,235.9 444.7,236.4 445.0,231.8 445.3,232.0 445.7,228.0 446.0,234.9 446.3,229.8 446.7,230.3 447.0,230.4 447.6,226.4 448.2,228.6 448.8,226.8 449.4,223.0 450.0,225.9 450.6,227.9 451.1,223.3 451.7,228.7 452.3,228.6 452.9,230.0 453.4,230.8 454.0,232.9 454.7,230.9 455.3,233.0 456.0,230.8 456.7,232.6 457.3,229.9 458.0,231.2 458.6,234.5 459.2,232.7 459.9,232.4 460.5,231.6 461.1,233.1 461.8,235.6 462.4,237.5 463.0,237.0 463.7,236.6 464.3,234.9 465.0,236.4 465.7,232.5 466.3,231.5 467.0,233.4 467.6,231.7 468.2,231.0 468.8,230.6 469.4,231.3 470.0,232.9 470.6,224.5 471.6,216.4 472.6,211.0 473.4,209.0 474.4,214.0 475.0,240.0 475.3,262.8 475.8,260.0 476.8,246.0 477.8,239.0 478.1,215.0 478.2,186.0 478.6,200.0 479.8,197.0 481.0,195.5 482.0,206.0 483.5,215.0 484.5,220.0 486.0,218.2 486.7,215.8 487.3,218.6 488.0,218.0 488.7,215.5 489.3,217.8 490.0,215.1 490.5,215.1 491.0,217.2 491.5,218.4 492.0,215.4 492.5,217.9 493.0,216.4 493.5,222.7 494.0,218.9 494.6,222.8 495.2,220.7 495.8,224.0 496.4,227.0 497.0,219.2 497.8,222.2 498.6,223.0 499.4,221.3 500.2,219.8 501.0,224.5 501.8,221.3 502.5,218.8 503.2,223.6 504.0,219.6 504.6,224.2 505.2,220.8 505.8,221.4 506.4,222.4 507.0,219.6 507.8,216.3 508.5,215.2 509.2,220.0 510.0,219.4 510.7,217.6 511.3,221.4 512.0,221.6 512.7,222.6 513.3,218.0 514.0,221.4 514.8,222.8 515.5,221.7 516.2,221.3 517.0,215.2 517.8,219.5 518.6,220.3 519.4,224.2 520.2,218.7 521.0,220.1 521.8,221.0 522.5,222.4 523.2,219.8 524.0,222.1 524.6,218.9 525.1,220.9 525.7,219.9 526.3,221.7 526.9,221.1 527.4,220.5 528.0,226.0 528.6,225.7 529.1,225.0 529.7,226.9 530.3,228.7 530.9,225.6 531.4,227.1 532.0,228.2 532.8,227.1 533.5,224.7 534.2,221.2 535.0,226.7 535.6,225.2 536.2,224.8 536.8,224.4 537.4,225.3 538.0,224.0 538.4,222.3 538.8,222.1 539.1,221.6 539.5,220.7 539.9,218.8 540.2,220.9 540.6,216.7 541.0,219.1 541.4,215.3 541.8,216.8 542.2,217.9 542.6,215.3 543.0,213.2 543.4,214.0 543.9,213.9 544.3,210.4 544.7,212.0 545.1,213.1 545.6,211.7 546.0,212.2 546.6,212.9 547.2,212.4 547.8,211.8 548.4,210.3 549.0,207.8 549.6,208.1 550.2,207.8 550.8,208.0 551.4,208.7 552.0,206.8 552.6,210.1 553.1,211.5 553.7,210.8 554.3,213.2 554.9,214.7 555.4,213.9 556.0,217.9 556.8,209.8 557.5,213.6 558.2,210.6 559.0,215.5 559.8,218.3 560.5,209.8 561.2,214.8 562.0,216.0 562.3,215.5 562.7,217.8 563.0,213.8 563.3,219.8 563.7,219.6 564.0,219.6 564.3,219.1 564.7,221.6 565.0,220.1 565.3,221.7 565.6,220.8 565.9,218.3 566.1,222.5 566.4,223.3 566.7,224.7 567.0,222.4 567.3,223.1 567.6,223.4 567.9,222.0 568.2,223.2 568.5,224.0 568.8,218.5 569.1,216.3 569.4,220.6 569.7,221.3 570.0,219.9 570.3,219.3 570.6,216.4 570.9,215.8 571.1,218.0 571.4,214.4 571.7,212.3 572.0,213.0 572.5,219.3 573.0,218.7 573.5,214.4 574.0,214.5 574.5,216.3 575.0,214.8 575.5,218.6 576.0,216.8 576.5,215.7 577.0,220.6 577.3,216.9 577.6,217.8 577.9,217.0 578.2,216.1 578.5,216.8 578.8,214.6 579.1,212.2 579.4,211.1 579.7,212.1 580.0,212.4 580.4,213.0 580.8,212.4 581.1,212.5 581.5,210.8 581.9,208.4 582.2,207.5 582.6,204.2 583.0,206.6 583.8,206.9 584.5,206.5 585.2,205.2 586.0,205.3 587.0,208.3 588.0,207.6 588.5,209.5 589.0,209.8 589.5,209.5 590.0,211.6 590.5,208.6 591.0,209.1 591.5,208.5 592.0,208.8 592.5,213.2 593.0,214.2 593.5,212.0 594.0,213.8 594.5,215.8 595.0,216.3 595.5,218.0 596.0,214.8 596.5,216.6 597.0,219.0 597.5,221.0 598.0,219.0 598.6,216.4 599.2,216.2 599.8,214.7 600.4,213.5 601.0,216.9 601.7,213.0 602.3,214.2 603.0,218.0 603.8,217.4 604.5,216.8 605.2,215.8 606.0,217.7 606.7,219.7 607.3,217.7 608.0,218.5"/>
<rect x="186.5" y="326.5" width="4" height="4"/>
<rect x="187.5" y="311.5" width="4" height="4"/>
<rect x="187.5" y="302.5" width="4" height="4"/>
<rect x="188.5" y="276.5" width="4" height="4"/>
<rect x="188.5" y="274.5" width="4" height="4"/>
<rect x="188.5" y="272.5" width="4" height="4"/>
<rect x="188.5" y="270.5" width="4" height="4"/>
<rect x="188.5" y="268.5" width="4" height="4"/>
<rect x="189.5" y="266.5" width="4" height="4"/>
<rect x="189.5" y="264.5" width="4" height="4"/>
<rect x="190.5" y="260.5" width="4" height="4"/>
<rect x="190.5" y="258.5" width="4" height="4"/>
<rect x="191.5" y="256.5" width="4" height="4"/>
<rect x="192.5" y="252.5" width="4" height="4"/>
<rect x="192.5" y="253.5" width="4" height="4"/>
<rect x="193.5" y="256.5" width="4" height="4"/>
<rect x="193.5" y="256.5" width="4" height="4"/>
<rect x="194.5" y="258.5" width="4" height="4"/>
<rect x="194.5" y="254.5" width="4" height="4"/>
<rect x="194.5" y="255.5" width="4" height="4"/>
<rect x="195.5" y="257.5" width="4" height="4"/>
<rect x="196.5" y="257.5" width="4" height="4"/>
<rect x="196.5" y="257.5" width="4" height="4"/>
<rect x="197.5" y="258.5" width="4" height="4"/>
<rect x="198.5" y="257.5" width="4" height="4"/>
<rect x="198.5" y="261.5" width="4" height="4"/>
<rect x="199.5" y="261.5" width="4" height="4"/>
<rect x="200.5" y="261.5" width="4" height="4"/>
<rect x="200.5" y="260.5" width="4" height="4"/>
<rect x="201.5" y="261.5" width="4" height="4"/>
<rect x="202.5" y="257.5" width="4" height="4"/>
<rect x="202.5" y="259.5" width="4" height="4"/>
<rect x="203.5" y="260.5" width="4" height="4"/>
<rect x="204.5" y="257.5" width="4" height="4"/>
<rect x="205.5" y="260.5" width="4" height="4"/>
<rect x="205.5" y="260.5" width="4" height="4"/>
<rect x="206.5" y="258.5" width="4" height="4"/>
<rect x="207.5" y="260.5" width="4" height="4"/>
<rect x="208.5" y="261.5" width="4" height="4"/>
<rect x="208.5" y="263.5" width="4" height="4"/>
<rect x="209.5" y="263.5" width="4" height="4"/>
<rect x="210.5" y="262.5" width="4" height="4"/>
<rect x="210.5" y="260.5" width="4" height="4"/>
<rect x="211.5" y="260.5" width="4" height="4"/>
<rect x="212.5" y="260.5" width="4" height="4"/>
<rect x="212.5" y="260.5" width="4" height="4"/>
<rect x="213.5" y="259.5" width="4" height="4"/>
<rect x="214.5" y="257.5" width="4" height="4"/>
<rect x="214.5" y="257.5" width="4" height="4"/>
<rect x="215.5" y="259.5" width="4" height="4"/>
<rect x="216.5" y="259.5" width="4" height="4"/>
<rect x="217.5" y="258.5" width="4" height="4"/>
<rect x="217.5" y="260.5" width="4" height="4"/>
<rect x="218.5" y="259.5" width="4" height="4"/>
<rect x="219.5" y="260.5" width="4" height="4"/>
<rect x="219.5" y="260.5" width="4" height="4"/>
<rect x="220.5" y="257.5" width="4" height="4"/>
<rect x="221.5" y="261.5" width="4" height="4"/>
<rect x="221.5" y="257.5" width="4" height="4"/>
<rect x="222.5" y="259.5" width="4" height="4"/>
<rect x="223.5" y="257.5" width="4" height="4"/>
<rect x="223.5" y="259.5" width="4" height="4"/>
<rect x="224.5" y="254.5" width="4" height="4"/>
<rect x="225.5" y="257.5" width="4" height="4"/>
<rect x="225.5" y="259.5" width="4" height="4"/>
<rect x="226.5" y="259.5" width="4" height="4"/>
<rect x="227.5" y="262.5" width="4" height="4"/>
<rect x="228.5" y="257.5" width="4" height="4"/>
<rect x="228.5" y="258.5" width="4" height="4"/>
<rect x="229.5" y="257.5" width="4" height="4"/>
<rect x="230.5" y="257.5" width="4" height="4"/>
<rect x="230.5" y="256.5" width="4" height="4"/>
<rect x="231.5" y="255.5" width="4" height="4"/>
<rect x="232.5" y="256.5" width="4" height="4"/>
<rect x="232.5" y="254.5" width="4" height="4"/>
<rect x="233.5" y="258.5" width="4" height="4"/>
<rect x="234.5" y="255.5" width="4" height="4"/>
<rect x="235.5" y="257.5" width="4" height="4"/>
<rect x="236.5" y="259.5" width="4" height="4"/>
<rect x="236.5" y="255.5" width="4" height="4"/>
<rect x="237.5" y="254.5" width="4" height="4"/>
<rect x="238.5" y="256.5" width="4" height="4"/>
<rect x="238.5" y="253.5" width="4" height="4"/>
<rect x="239.5" y="252.5" width="4" height="4"/>
<rect x="240.5" y="254.5" width="4" height="4"/>
<rect x="241.5" y="255.5" width="4" height="4"/>
<rect x="241.5" y="256.5" width="4" height="4"/>
<rect x="242.5" y="253.5" width="4" height="4"/>
<rect x="243.5" y="257.5" width="4" height="4"/>
<rect x="244.5" y="257.5" width="4" height="4"/>
<rect x="244.5" y="254.5" width="4" height="4"/>
<rect x="245.5" y="254.5" width="4" height="4"/>
<rect x="246.5" y="252.5" width="4" height="4"/>
<rect x="246.5" y="255.5" width="4" height="4"/>
<rect x="247.5" y="252.5" width="4" height="4"/>
<rect x="248.5" y="255.5" width="4" height="4"/>
<rect x="248.5" y="253.5" width="4" height="4"/>
<rect x="249.5" y="254.5" width="4" height="4"/>
<rect x="250.5" y="257.5" width="4" height="4"/>
<rect x="250.5" y="258.5" width="4" height="4"/>
<rect x="251.5" y="256.5" width="4" height="4"/>
<rect x="252.5" y="255.5" width="4" height="4"/>
<rect x="252.5" y="257.5" width="4" height="4"/>
<rect x="253.5" y="255.5" width="4" height="4"/>
<rect x="254.5" y="255.5" width="4" height="4"/>
<rect x="255.5" y="257.5" width="4" height="4"/>
<rect x="255.5" y="256.5" width="4" height="4"/>
<rect x="256.5" y="253.5" width="4" height="4"/>
<rect x="257.5" y="259.5" width="4" height="4"/>
<rect x="258.5" y="255.5" width="4" height="4"/>
<rect x="258.5" y="257.5" width="4" height="4"/>
<rect x="259.5" y="255.5" width="4" height="4"/>
<rect x="260.5" y="255.5" width="4" height="4"/>
<rect x="260.5" y="252.5" width="4" height="4"/>
<rect x="261.5" y="257.5" width="4" height="4"/>
<rect x="262.5" y="256.5" width="4" height="4"/>
<rect x="263.5" y="251.5" width="4" height="4"/>
<rect x="263.5" y="250.5" width="4" height="4"/>
<rect x="264.5" y="249.5" width="4" height="4"/>
<rect x="265.5" y="254.5" width="4" height="4"/>
<rect x="266.5" y="252.5" width="4" height="4"/>
<rect x="266.5" y="253.5" width="4" height="4"/>
<rect x="267.5" y="253.5" width="4" height="4"/>
<rect x="268.5" y="253.5" width="4" height="4"/>
<rect x="268.5" y="251.5" width="4" height="4"/>
<rect x="269.5" y="252.5" width="4" height="4"/>
<rect x="270.5" y="249.5" width="4" height="4"/>
<rect x="270.5" y="250.5" width="4" height="4"/>
<rect x="271.5" y="250.5" width="4" height="4"/>
<rect x="272.5" y="250.5" width="4" height="4"/>
<rect x="272.5" y="249.5" width="4" height="4"/>
<rect x="273.5" y="248.5" width="4" height="4"/>
<rect x="274.5" y="251.5" width="4" height="4"/>
<rect x="275.5" y="251.5" width="4" height="4"/>
<rect x="275.5" y="255.5" width="4" height="4"/>
<rect x="276.5" y="254.5" width="4" height="4"/>
<rect x="277.5" y="253.5" width="4" height="4"/>
<rect x="278.5" y="252.5" width="4" height="4"/>
<rect x="278.5" y="251.5" width="4" height="4"/>
<rect x="279.5" y="250.5" width="4" height="4"/>
<rect x="280.5" y="250.5" width="4" height="4"/>
<rect x="280.5" y="251.5" width="4" height="4"/>
<rect x="281.5" y="252.5" width="4" height="4"/>
<rect x="282.5" y="252.5" width="4" height="4"/>
<rect x="282.5" y="255.5" width="4" height="4"/>
<rect x="283.5" y="251.5" width="4" height="4"/>
<rect x="284.5" y="252.5" width="4" height="4"/>
<rect x="285.5" y="257.5" width="4" height="4"/>
<rect x="285.5" y="249.5" width="4" height="4"/>
<rect x="286.5" y="250.5" width="4" height="4"/>
<rect x="287.5" y="251.5" width="4" height="4"/>
<rect x="287.5" y="250.5" width="4" height="4"/>
<rect x="288.5" y="250.5" width="4" height="4"/>
<rect x="289.5" y="248.5" width="4" height="4"/>
<rect x="290.5" y="249.5" width="4" height="4"/>
<rect x="290.5" y="249.5" width="4" height="4"/>
<rect x="291.5" y="251.5" width="4" height="4"/>
<rect x="292.5" y="247.5" width="4" height="4"/>
<rect x="292.5" y="249.5" width="4" height="4"/>
<rect x="293.5" y="250.5" width="4" height="4"/>
<rect x="294.5" y="248.5" width="4" height="4"/>
<rect x="295.5" y="247.5" width="4" height="4"/>
<rect x="295.5" y="250.5" width="4" height="4"/>
<rect x="296.5" y="247.5" width="4" height="4"/>
<rect x="297.5" y="249.5" width="4" height="4"/>
<rect x="298.5" y="249.5" width="4" height="4"/>
<rect x="298.5" y="248.5" width="4" height="4"/>
<rect x="299.5" y="249.5" width="4" height="4"/>
<rect x="300.5" y="248.5" width="4" height="4"/>
<rect x="300.5" y="246.5" width="4" height="4"/>
<rect x="301.5" y="249.5" width="4" height="4"/>
<rect x="302.5" y="249.5" width="4" height="4"/>
<rect x="303.5" y="247.5" width="4" height="4"/>
<rect x="303.5" y="247.5" width="4" height="4"/>
<rect x="304.5" y="248.5" width="4" height="4"/>
<rect x="305.5" y="244.5" width="4" height="4"/>
<rect x="306.5" y="246.5" width="4" height="4"/>
<rect x="306.5" y="249.5" width="4" height="4"/>
<rect x="307.5" y="245.5" width="4" height="4"/>
<rect x="308.5" y="247.5" width="4" height="4"/>
<rect x="308.5" y="247.5" width="4" height="4"/>
<rect x="309.5" y="250.5" width="4" height="4"/>
<rect x="310.5" y="248.5" width="4" height="4"/>
<rect x="310.5" y="248.5" width="4" height="4"/>
<rect x="311.5" y="245.5" width="4" height="4"/>
<rect x="312.5" y="245.5" width="4" height="4"/>
<rect x="312.5" y="245.5" width="4" height="4"/>
<rect x="313.5" y="241.5" width="4" height="4"/>
<rect x="314.5" y="247.5" width="4" height="4"/>
<rect x="315.5" y="246.5" width="4" height="4"/>
<rect x="315.5" y="242.5" width="4" height="4"/>
<rect x="316.5" y="247.5" width="4" height="4"/>
<rect x="317.5" y="246.5" width="4" height="4"/>
<rect x="317.5" y="247.5" width="4" height="4"/>
<rect x="318.5" y="247.5" width="4" height="4"/>
<rect x="319.5" y="244.5" width="4" height="4"/>
<rect x="320.5" y="246.5" width="4" height="4"/>
<rect x="320.5" y="248.5" width="4" height="4"/>
<rect x="321.5" y="243.5" width="4" height="4"/>
<rect x="322.5" y="242.5" width="4" height="4"/>
<rect x="322.5" y="241.5" width="4" height="4"/>
<rect x="323.5" y="241.5" width="4" height="4"/>
<rect x="324.5" y="244.5" width="4" height="4"/>
<rect x="324.5" y="246.5" width="4" height="4"/>
<rect x="325.5" y="244.5" width="4" height="4"/>
<rect x="326.5" y="244.5" width="4" height="4"/>
<rect x="326.5" y="248.5" width="4" height="4"/>
<rect x="327.5" y="243.5" width="4" height="4"/>
<rect x="328.5" y="242.5" width="4" height="4"/>
<rect x="328.5" y="243.5" width="4" height="4"/>
<rect x="329.5" y="243.5" width="4" height="4"/>
<rect x="330.5" y="239.5" width="4" height="4"/>
<rect x="330.5" y="239.5" width="4" height="4"/>
<rect x="331.5" y="242.5" width="4" height="4"/>
<rect x="332.5" y="242.5" width="4" height="4"/>
<rect x="333.5" y="240.5" width="4" height="4"/>
<rect x="333.5" y="243.5" width="4" height="4"/>
<rect x="334.5" y="243.5" width="4" height="4"/>
<rect x="335.5" y="245.5" width="4" height="4"/>
<rect x="335.5" y="244.5" width="4" height="4"/>
<rect x="336.5" y="244.5" width="4" height="4"/>
<rect x="337.5" y="243.5" width="4" height="4"/>
<rect x="338.5" y="245.5" width="4" height="4"/>
<rect x="338.5" y="245.5" width="4" height="4"/>
<rect x="339.5" y="241.5" width="4" height="4"/>
<rect x="339.5" y="243.5" width="4" height="4"/>
<rect x="340.5" y="240.5" width="4" height="4"/>
<rect x="340.5" y="241.5" width="4" height="4"/>
<rect x="341.5" y="242.5" width="4" height="4"/>
<rect x="341.5" y="243.5" width="4" height="4"/>
<rect x="342.5" y="240.5" width="4" height="4"/>
<rect x="342.5" y="241.5" width="4" height="4"/>
<rect x="343.5" y="241.5" width="4" height="4"/>
<rect x="344.5" y="237.5" width="4" height="4"/>
<rect x="344.5" y="239.5" width="4" height="4"/>
<rect x="345.5" y="237.5" width="4" height="4"/>
<rect x="346.5" y="238.5" width="4" height="4"/>
<rect x="346.5" y="235.5" width="4" height="4"/>
<rect x="347.5" y="234.5" width="4" height="4"/>
<rect x="348.5" y="238.5" width="4" height="4"/>
<rect x="348.5" y="239.5" width="4" height="4"/>
<rect x="349.5" y="238.5" width="4" height="4"/>
<rect x="350.5" y="242.5" width="4" height="4"/>
<rect x="350.5" y="240.5" width="4" height="4"/>
<rect x="351.5" y="240.5" width="4" height="4"/>
<rect x="352.5" y="242.5" width="4" height="4"/>
<rect x="352.5" y="239.5" width="4" height="4"/>
<rect x="353.5" y="240.5" width="4" height="4"/>
<rect x="354.5" y="240.5" width="4" height="4"/>
<rect x="354.5" y="241.5" width="4" height="4"/>
<rect x="355.5" y="239.5" width="4" height="4"/>
<rect x="356.5" y="240.5" width="4" height="4"/>
<rect x="357.5" y="239.5" width="4" height="4"/>
<rect x="357.5" y="241.5" width="4" height="4"/>
<rect x="358.5" y="244.5" width="4" height="4"/>
<rect x="359.5" y="240.5" width="4" height="4"/>
<rect x="360.5" y="246.5" width="4" height="4"/>
<rect x="360.5" y="241.5" width="4" height="4"/>
<rect x="361.5" y="241.5" width="4" height="4"/>
<rect x="362.5" y="241.5" width="4" height="4"/>
<rect x="362.5" y="242.5" width="4" height="4"/>
<rect x="363.5" y="237.5" width="4" height="4"/>
<rect x="364.5" y="235.5" width="4" height="4"/>
<rect x="364.5" y="239.5" width="4" height="4"/>
<rect x="365.5" y="239.5" width="4" height="4"/>
<rect x="365.5" y="238.5" width="4" height="4"/>
<rect x="366.5" y="242.5" width="4" height="4"/>
<rect x="366.5" y="238.5" width="4" height="4"/>
<rect x="367.5" y="238.5" width="4" height="4"/>
<rect x="368.5" y="239.5" width="4" height="4"/>
<rect x="369.5" y="238.5" width="4" height="4"/>
<rect x="370.5" y="239.5" width="4" height="4"/>
<rect x="370.5" y="234.5" width="4" height="4"/>
<rect x="371.5" y="235.5" width="4" height="4"/>
<rect x="372.5" y="230.5" width="4" height="4"/>
<rect x="372.5" y="237.5" width="4" height="4"/>
<rect x="373.5" y="236.5" width="4" height="4"/>
<rect x="374.5" y="238.5" width="4" height="4"/>
<rect x="374.5" y="241.5" width="4" height="4"/>
<rect x="375.5" y="239.5" width="4" height="4"/>
<rect x="376.5" y="239.5" width="4" height="4"/>
<rect x="376.5" y="239.5" width="4" height="4"/>
<rect x="377.5" y="238.5" width="4" height="4"/>
<rect x="378.5" y="238.5" width="4" height="4"/>
<rect x="378.5" y="240.5" width="4" height="4"/>
<rect x="379.5" y="238.5" width="4" height="4"/>
<rect x="380.5" y="238.5" width="4" height="4"/>
<rect x="380.5" y="237.5" width="4" height="4"/>
<rect x="381.5" y="239.5" width="4" height="4"/>
<rect x="382.5" y="238.5" width="4" height="4"/>
<rect x="382.5" y="238.5" width="4" height="4"/>
<rect x="383.5" y="239.5" width="4" height="4"/>
<rect x="384.5" y="238.5" width="4" height="4"/>
<rect x="384.5" y="236.5" width="4" height="4"/>
<rect x="385.5" y="240.5" width="4" height="4"/>
<rect x="385.5" y="238.5" width="4" height="4"/>
<rect x="386.5" y="234.5" width="4" height="4"/>
<rect x="386.5" y="237.5" width="4" height="4"/>
<rect x="387.5" y="235.5" width="4" height="4"/>
<rect x="388.5" y="231.5" width="4" height="4"/>
<rect x="388.5" y="235.5" width="4" height="4"/>
<rect x="389.5" y="232.5" width="4" height="4"/>
<rect x="389.5" y="233.5" width="4" height="4"/>
<rect x="390.5" y="231.5" width="4" height="4"/>
<rect x="390.5" y="231.5" width="4" height="4"/>
<rect x="391.5" y="229.5" width="4" height="4"/>
<rect x="392.5" y="235.5" width="4" height="4"/>
<rect x="393.5" y="234.5" width="4" height="4"/>
<rect x="393.5" y="234.5" width="4" height="4"/>
<rect x="394.5" y="235.5" width="4" height="4"/>
<rect x="395.5" y="234.5" width="4" height="4"/>
<rect x="396.5" y="235.5" width="4" height="4"/>
<rect x="396.5" y="233.5" width="4" height="4"/>
<rect x="397.5" y="232.5" width="4" height="4"/>
<rect x="398.5" y="229.5" width="4" height="4"/>
<rect x="399.5" y="232.5" width="4" height="4"/>
<rect x="400.5" y="234.5" width="4" height="4"/>
<rect x="400.5" y="236.5" width="4" height="4"/>
<rect x="401.5" y="233.5" width="4" height="4"/>
<rect x="402.5" y="233.5" width="4" height="4"/>
<rect x="402.5" y="236.5" width="4" height="4"/>
<rect x="403.5" y="232.5" width="4" height="4"/>
<rect x="404.5" y="233.5" width="4" height="4"/>
<rect x="404.5" y="234.5" width="4" height="4"/>
<rect x="405.5" y="230.5" width="4" height="4"/>
<rect x="406.5" y="232.5" width="4" height="4"/>
<rect x="406.5" y="228.5" width="4" height="4"/>
<rect x="407.5" y="230.5" width="4" height="4"/>
<rect x="408.5" y="230.5" width="4" height="4"/>
<rect x="408.5" y="230.5" width="4" height="4"/>
<rect x="409.5" y="233.5" width="4" height="4"/>
<rect x="410.5" y="235.5" width="4" height="4"/>
<rect x="410.5" y="230.5" width="4" height="4"/>
<rect x="411.5" y="230.5" width="4" height="4"/>
<rect x="412.5" y="231.5" width="4" height="4"/>
<rect x="412.5" y="227.5" width="4" height="4"/>
<rect x="413.5" y="230.5" width="4" height="4"/>
<rect x="414.5" y="229.5" width="4" height="4"/>
<rect x="415.5" y="228.5" width="4" height="4"/>
<rect x="415.5" y="230.5" width="4" height="4"/>
<rect x="416.5" y="227.5" width="4" height="4"/>
<rect x="417.5" y="231.5" width="4" height="4"/>
<rect x="418.5" y="228.5" width="4" height="4"/>
<rect x="418.5" y="229.5" width="4" height="4"/>
<rect x="419.5" y="229.5" width="4" height="4"/>
<rect x="420.5" y="229.5" width="4" height="4"/>
<rect x="420.5" y="230.5" width="4" height="4"/>
<rect x="421.5" y="228.5" width="4" height="4"/>
<rect x="422.5" y="227.5" width="4" height="4"/>
<rect x="422.5" y="228.5" width="4" height="4"/>
<rect x="423.5" y="230.5" width="4" height="4"/>
<rect x="424.5" y="228.5" width="4" height="4"/>
<rect x="424.5" y="230.5" width="4" height="4"/>
<rect x="425.5" y="232.5" width="4" height="4"/>
<rect x="426.5" y="232.5" width="4" height="4"/>
<rect x="426.5" y="229.5" width="4" height="4"/>
<rect x="427.5" y="235.5" width="4" height="4"/>
<rect x="427.5" y="234.5" width="4" height="4"/>
<rect x="428.5" y="226.5" width="4" height="4"/>
<rect x="429.5" y="229.5" width="4" height="4"/>
<rect x="429.5" y="228.5" width="4" height="4"/>
<rect x="430.5" y="228.5" width="4" height="4"/>
<rect x="430.5" y="227.5" width="4" height="4"/>
<rect x="431.5" y="225.5" width="4" height="4"/>
<rect x="432.5" y="224.5" width="4" height="4"/>
<rect x="432.5" y="226.5" width="4" height="4"/>
<rect x="433.5" y="228.5" width="4" height="4"/>
<rect x="434.5" y="225.5" width="4" height="4"/>
<rect x="434.5" y="225.5" width="4" height="4"/>
<rect x="435.5" y="227.5" width="4" height="4"/>
<rect x="436.5" y="224.5" width="4" height="4"/>
<rect x="436.5" y="228.5" width="4" height="4"/>
<rect x="437.5" y="227.5" width="4" height="4"/>
<rect x="437.5" y="229.5" width="4" height="4"/>
<rect x="438.5" y="227.5" width="4" height="4"/>
<rect x="438.5" y="227.5" width="4" height="4"/>
<rect x="439.5" y="228.5" width="4" height="4"/>
<rect x="440.5" y="229.5" width="4" height="4"/>
<rect x="440.5" y="229.5" width="4" height="4"/>
<rect x="441.5" y="231.5" width="4" height="4"/>
<rect x="442.5" y="233.5" width="4" height="4"/>
<rect x="442.5" y="233.5" width="4" height="4"/>
<rect x="442.5" y="234.5" width="4" height="4"/>
<rect x="442.5" y="229.5" width="4" height="4"/>
<rect x="443.5" y="230.5" width="4" height="4"/>
<rect x="443.5" y="226.5" width="4" height="4"/>
<rect x="444.5" y="232.5" width="4" height="4"/>
<rect x="444.5" y="227.5" width="4" height="4"/>
<rect x="444.5" y="228.5" width="4" height="4"/>
<rect x="444.5" y="228.5" width="4" height="4"/>
<rect x="445.5" y="224.5" width="4" height="4"/>
<rect x="446.5" y="226.5" width="4" height="4"/>
<rect x="446.5" y="224.5" width="4" height="4"/>
<rect x="447.5" y="220.5" width="4" height="4"/>
<rect x="448.5" y="223.5" width="4" height="4"/>
<rect x="448.5" y="225.5" width="4" height="4"/>
<rect x="449.5" y="221.5" width="4" height="4"/>
<rect x="449.5" y="226.5" width="4" height="4"/>
<rect x="450.5" y="226.5" width="4" height="4"/>
<rect x="450.5" y="227.5" width="4" height="4"/>
<rect x="451.5" y="228.5" width="4" height="4"/>
<rect x="452.5" y="230.5" width="4" height="4"/>
<rect x="452.5" y="228.5" width="4" height="4"/>
<rect x="453.5" y="230.5" width="4" height="4"/>
<rect x="454.5" y="228.5" width="4" height="4"/>
<rect x="454.5" y="230.5" width="4" height="4"/>
<rect x="455.5" y="227.5" width="4" height="4"/>
<rect x="456.5" y="229.5" width="4" height="4"/>
<rect x="456.5" y="232.5" width="4" height="4"/>
<rect x="457.5" y="230.5" width="4" height="4"/>
<rect x="457.5" y="230.5" width="4" height="4"/>
<rect x="458.5" y="229.5" width="4" height="4"/>
<rect x="459.5" y="231.5" width="4" height="4"/>
<rect x="459.5" y="233.5" width="4" height="4"/>
<rect x="460.5" y="235.5" width="4" height="4"/>
<rect x="460.5" y="235.5" width="4" height="4"/>
<rect x="461.5" y="234.5" width="4" height="4"/>
<rect x="462.5" y="232.5" width="4" height="4"/>
<rect x="462.5" y="234.5" width="4" height="4"/>
<rect x="463.5" y="230.5" width="4" height="4"/>
<rect x="464.5" y="229.5" width="4" height="4"/>
<rect x="464.5" y="231.5" width="4" height="4"/>
<rect x="465.5" y="229.5" width="4" height="4"/>
<rect x="466.5" y="229.5" width="4" height="4"/>
<rect x="466.5" y="228.5" width="4" height="4"/>
<rect x="467.5" y="229.5" width="4" height="4"/>
<rect x="468.5" y="230.5" width="4" height="4"/>
<rect x="468.5" y="222.5" width="4" height="4"/>
<rect x="469.5" y="214.5" width="4" height="4"/>
<rect x="470.5" y="208.5" width="4" height="4"/>
<rect x="471.5" y="206.5" width="4" height="4"/>
<rect x="472.5" y="212.5" width="4" height="4"/>
<rect x="472.5" y="238.5" width="4" height="4"/>
<rect x="473.5" y="260.5" width="4" height="4"/>
<rect x="473.5" y="258.5" width="4" height="4"/>
<rect x="474.5" y="244.5" width="4" height="4"/>
<rect x="475.5" y="236.5" width="4" height="4"/>
<rect x="476.5" y="212.5" width="4" height="4"/>
<rect x="476.5" y="184.5" width="4" height="4"/>
<rect x="476.5" y="198.5" width="4" height="4"/>
<rect x="477.5" y="194.5" width="4" height="4"/>
<rect x="478.5" y="193.5" width="4" height="4"/>
<rect x="480.5" y="204.5" width="4" height="4"/>
<rect x="481.5" y="212.5" width="4" height="4"/>
<rect x="482.5" y="218.5" width="4" height="4"/>
<rect x="484.5" y="216.5" width="4" height="4"/>
<rect x="484.5" y="213.5" width="4" height="4"/>
<rect x="485.5" y="216.5" width="4" height="4"/>
<rect x="486.5" y="216.5" width="4" height="4"/>
<rect x="486.5" y="213.5" width="4" height="4"/>
<rect x="487.5" y="215.5" width="4" height="4"/>
<rect x="488.5" y="213.5" width="4" height="4"/>
<rect x="488.5" y="213.5" width="4" height="4"/>
<rect x="488.5" y="215.5" width="4" height="4"/>
<rect x="489.5" y="216.5" width="4" height="4"/>
<rect x="490.5" y="213.5" width="4" height="4"/>
<rect x="490.5" y="215.5" width="4" height="4"/>
<rect x="490.5" y="214.5" width="4" height="4"/>
<rect x="491.5" y="220.5" width="4" height="4"/>
<rect x="492.5" y="216.5" width="4" height="4"/>
<rect x="492.5" y="220.5" width="4" height="4"/>
<rect x="493.5" y="218.5" width="4" height="4"/>
<rect x="493.5" y="221.5" width="4" height="4"/>
<rect x="494.5" y="224.5" width="4" height="4"/>
<rect x="494.5" y="217.5" width="4" height="4"/>
<rect x="495.5" y="220.5" width="4" height="4"/>
<rect x="496.5" y="221.5" width="4" height="4"/>
<rect x="497.5" y="219.5" width="4" height="4"/>
<rect x="498.5" y="217.5" width="4" height="4"/>
<rect x="498.5" y="222.5" width="4" height="4"/>
<rect x="499.5" y="219.5" width="4" height="4"/>
<rect x="500.5" y="216.5" width="4" height="4"/>
<rect x="501.5" y="221.5" width="4" height="4"/>
<rect x="502.5" y="217.5" width="4" height="4"/>
<rect x="502.5" y="222.5" width="4" height="4"/>
<rect x="503.5" y="218.5" width="4" height="4"/>
<rect x="503.5" y="219.5" width="4" height="4"/>
<rect x="504.5" y="220.5" width="4" height="4"/>
<rect x="504.5" y="217.5" width="4" height="4"/>
<rect x="505.5" y="214.5" width="4" height="4"/>
<rect x="506.5" y="213.5" width="4" height="4"/>
<rect x="507.5" y="217.5" width="4" height="4"/>
<rect x="508.5" y="217.5" width="4" height="4"/>
<rect x="508.5" y="215.5" width="4" height="4"/>
<rect x="509.5" y="219.5" width="4" height="4"/>
<rect x="510.5" y="219.5" width="4" height="4"/>
<rect x="510.5" y="220.5" width="4" height="4"/>
<rect x="511.5" y="216.5" width="4" height="4"/>
<rect x="512.5" y="219.5" width="4" height="4"/>
<rect x="512.5" y="220.5" width="4" height="4"/>
<rect x="513.5" y="219.5" width="4" height="4"/>
<rect x="514.5" y="219.5" width="4" height="4"/>
<rect x="514.5" y="213.5" width="4" height="4"/>
<rect x="515.5" y="217.5" width="4" height="4"/>
<rect x="516.5" y="218.5" width="4" height="4"/>
<rect x="517.5" y="222.5" width="4" height="4"/>
<rect x="518.5" y="216.5" width="4" height="4"/>
<rect x="518.5" y="218.5" width="4" height="4"/>
<rect x="519.5" y="218.5" width="4" height="4"/>
<rect x="520.5" y="220.5" width="4" height="4"/>
<rect x="521.5" y="217.5" width="4" height="4"/>
<rect x="522.5" y="220.5" width="4" height="4"/>
<rect x="522.5" y="216.5" width="4" height="4"/>
<rect x="523.5" y="218.5" width="4" height="4"/>
<rect x="523.5" y="217.5" width="4" height="4"/>
<rect x="524.5" y="219.5" width="4" height="4"/>
<rect x="524.5" y="219.5" width="4" height="4"/>
<rect x="525.5" y="218.5" width="4" height="4"/>
<rect x="526.5" y="224.5" width="4" height="4"/>
<rect x="526.5" y="223.5" width="4" height="4"/>
<rect x="527.5" y="223.5" width="4" height="4"/>
<rect x="527.5" y="224.5" width="4" height="4"/>
<rect x="528.5" y="226.5" width="4" height="4"/>
<rect x="528.5" y="223.5" width="4" height="4"/>
<rect x="529.5" y="225.5" width="4" height="4"/>
<rect x="530.5" y="226.5" width="4" height="4"/>
<rect x="530.5" y="225.5" width="4" height="4"/>
<rect x="531.5" y="222.5" width="4" height="4"/>
<rect x="532.5" y="219.5" width="4" height="4"/>
<rect x="532.5" y="224.5" width="4" height="4"/>
<rect x="533.5" y="223.5" width="4" height="4"/>
<rect x="534.5" y="222.5" width="4" height="4"/>
<rect x="534.5" y="222.5" width="4" height="4"/>
<rect x="535.5" y="223.5" width="4" height="4"/>
<rect x="536.5" y="221.5" width="4" height="4"/>
<rect x="536.5" y="220.5" width="4" height="4"/>
<rect x="536.5" y="220.5" width="4" height="4"/>
<rect x="537.5" y="219.5" width="4" height="4"/>
<rect x="537.5" y="218.5" width="4" height="4"/>
<rect x="537.5" y="216.5" width="4" height="4"/>
<rect x="538.5" y="218.5" width="4" height="4"/>
<rect x="538.5" y="214.5" width="4" height="4"/>
<rect x="538.5" y="217.5" width="4" height="4"/>
<rect x="539.5" y="213.5" width="4" height="4"/>
<rect x="539.5" y="214.5" width="4" height="4"/>
<rect x="540.5" y="215.5" width="4" height="4"/>
<rect x="540.5" y="213.5" width="4" height="4"/>
<rect x="540.5" y="211.5" width="4" height="4"/>
<rect x="541.5" y="212.5" width="4" height="4"/>
<rect x="541.5" y="211.5" width="4" height="4"/>
<rect x="542.5" y="208.5" width="4" height="4"/>
<rect x="542.5" y="210.5" width="4" height="4"/>
<rect x="543.5" y="211.5" width="4" height="4"/>
<rect x="543.5" y="209.5" width="4" height="4"/>
<rect x="544.5" y="210.5" width="4" height="4"/>
<rect x="544.5" y="210.5" width="4" height="4"/>
<rect x="545.5" y="210.5" width="4" height="4"/>
<rect x="545.5" y="209.5" width="4" height="4"/>
<rect x="546.5" y="208.5" width="4" height="4"/>
<rect x="546.5" y="205.5" width="4" height="4"/>
<rect x="547.5" y="206.5" width="4" height="4"/>
<rect x="548.5" y="205.5" width="4" height="4"/>
<rect x="548.5" y="205.5" width="4" height="4"/>
<rect x="549.5" y="206.5" width="4" height="4"/>
<rect x="550.5" y="204.5" width="4" height="4"/>
<rect x="550.5" y="208.5" width="4" height="4"/>
<rect x="551.5" y="209.5" width="4" height="4"/>
<rect x="551.5" y="208.5" width="4" height="4"/>
<rect x="552.5" y="211.5" width="4" height="4"/>
<rect x="552.5" y="212.5" width="4" height="4"/>
<rect x="553.5" y="211.5" width="4" height="4"/>
<rect x="554.5" y="215.5" width="4" height="4"/>
<rect x="554.5" y="207.5" width="4" height="4"/>
<rect x="555.5" y="211.5" width="4" height="4"/>
<rect x="556.5" y="208.5" width="4" height="4"/>
<rect x="556.5" y="213.5" width="4" height="4"/>
<rect x="557.5" y="216.5" width="4" height="4"/>
<rect x="558.5" y="207.5" width="4" height="4"/>
<rect x="559.5" y="212.5" width="4" height="4"/>
<rect x="560.5" y="213.5" width="4" height="4"/>
<rect x="560.5" y="213.5" width="4" height="4"/>
<rect x="560.5" y="215.5" width="4" height="4"/>
<rect x="560.5" y="211.5" width="4" height="4"/>
<rect x="561.5" y="217.5" width="4" height="4"/>
<rect x="561.5" y="217.5" width="4" height="4"/>
<rect x="562.5" y="217.5" width="4" height="4"/>
<rect x="562.5" y="217.5" width="4" height="4"/>
<rect x="562.5" y="219.5" width="4" height="4"/>
<rect x="562.5" y="218.5" width="4" height="4"/>
<rect x="563.5" y="219.5" width="4" height="4"/>
<rect x="563.5" y="218.5" width="4" height="4"/>
<rect x="563.5" y="216.5" width="4" height="4"/>
<rect x="564.5" y="220.5" width="4" height="4"/>
<rect x="564.5" y="221.5" width="4" height="4"/>
<rect x="564.5" y="222.5" width="4" height="4"/>
<rect x="564.5" y="220.5" width="4" height="4"/>
<rect x="565.5" y="221.5" width="4" height="4"/>
<rect x="565.5" y="221.5" width="4" height="4"/>
<rect x="565.5" y="219.5" width="4" height="4"/>
<rect x="566.5" y="221.5" width="4" height="4"/>
<rect x="566.5" y="221.5" width="4" height="4"/>
<rect x="566.5" y="216.5" width="4" height="4"/>
<rect x="567.5" y="214.5" width="4" height="4"/>
<rect x="567.5" y="218.5" width="4" height="4"/>
<rect x="567.5" y="219.5" width="4" height="4"/>
<rect x="568.5" y="217.5" width="4" height="4"/>
<rect x="568.5" y="217.5" width="4" height="4"/>
<rect x="568.5" y="214.5" width="4" height="4"/>
<rect x="568.5" y="213.5" width="4" height="4"/>
<rect x="569.5" y="216.5" width="4" height="4"/>
<rect x="569.5" y="212.5" width="4" height="4"/>
<rect x="569.5" y="210.5" width="4" height="4"/>
<rect x="570.5" y="210.5" width="4" height="4"/>
<rect x="570.5" y="217.5" width="4" height="4"/>
<rect x="570.5" y="216.5" width="4" height="4"/>
<rect x="571.5" y="212.5" width="4" height="4"/>
<rect x="572.5" y="212.5" width="4" height="4"/>
<rect x="572.5" y="214.5" width="4" height="4"/>
<rect x="572.5" y="212.5" width="4" height="4"/>
<rect x="573.5" y="216.5" width="4" height="4"/>
<rect x="574.5" y="214.5" width="4" height="4"/>
<rect x="574.5" y="213.5" width="4" height="4"/>
<rect x="574.5" y="218.5" width="4" height="4"/>
<rect x="575.5" y="214.5" width="4" height="4"/>
<rect x="575.5" y="215.5" width="4" height="4"/>
<rect x="575.5" y="215.5" width="4" height="4"/>
<rect x="576.5" y="214.5" width="4" height="4"/>
<rect x="576.5" y="214.5" width="4" height="4"/>
<rect x="576.5" y="212.5" width="4" height="4"/>
<rect x="577.5" y="210.5" width="4" height="4"/>
<rect x="577.5" y="209.5" width="4" height="4"/>
<rect x="577.5" y="210.5" width="4" height="4"/>
<rect x="578.5" y="210.5" width="4" height="4"/>
<rect x="578.5" y="211.5" width="4" height="4"/>
<rect x="578.5" y="210.5" width="4" height="4"/>
<rect x="579.5" y="210.5" width="4" height="4"/>
<rect x="579.5" y="208.5" width="4" height="4"/>
<rect x="579.5" y="206.5" width="4" height="4"/>
<rect x="580.5" y="205.5" width="4" height="4"/>
<rect x="580.5" y="202.5" width="4" height="4"/>
<rect x="580.5" y="204.5" width="4" height="4"/>
<rect x="581.5" y="204.5" width="4" height="4"/>
<rect x="582.5" y="204.5" width="4" height="4"/>
<rect x="583.5" y="203.5" width="4" height="4"/>
<rect x="584.5" y="203.5" width="4" height="4"/>
<rect x="584.5" y="206.5" width="4" height="4"/>
<rect x="586.5" y="205.5" width="4" height="4"/>
<rect x="586.5" y="207.5" width="4" height="4"/>
<rect x="586.5" y="207.5" width="4" height="4"/>
<rect x="587.5" y="207.5" width="4" height="4"/>
<rect x="588.5" y="209.5" width="4" height="4"/>
<rect x="588.5" y="206.5" width="4" height="4"/>
<rect x="588.5" y="207.5" width="4" height="4"/>
<rect x="589.5" y="206.5" width="4" height="4"/>
<rect x="590.5" y="206.5" width="4" height="4"/>
<rect x="590.5" y="211.5" width="4" height="4"/>
<rect x="590.5" y="212.5" width="4" height="4"/>
<rect x="591.5" y="209.5" width="4" height="4"/>
<rect x="592.5" y="211.5" width="4" height="4"/>
<rect x="592.5" y="213.5" width="4" height="4"/>
<rect x="592.5" y="214.5" width="4" height="4"/>
<rect x="593.5" y="216.5" width="4" height="4"/>
<rect x="594.5" y="212.5" width="4" height="4"/>
<rect x="594.5" y="214.5" width="4" height="4"/>
<rect x="594.5" y="216.5" width="4" height="4"/>
<rect x="595.5" y="219.5" width="4" height="4"/>
<rect x="596.5" y="216.5" width="4" height="4"/>
<rect x="596.5" y="214.5" width="4" height="4"/>
<rect x="597.5" y="214.5" width="4" height="4"/>
<rect x="597.5" y="212.5" width="4" height="4"/>
<rect x="598.5" y="211.5" width="4" height="4"/>
<rect x="598.5" y="214.5" width="4" height="4"/>
<rect x="599.5" y="211.5" width="4" height="4"/>
<rect x="600.5" y="212.5" width="4" height="4"/>
<rect x="600.5" y="216.5" width="4" height="4"/>
<rect x="601.5" y="215.5" width="4" height="4"/>
<rect x="602.5" y="214.5" width="4" height="4"/>
<rect x="603.5" y="213.5" width="4" height="4"/>
<rect x="604.5" y="215.5" width="4" height="4"/>
<rect x="604.5" y="217.5" width="4" height="4"/>
<rect x="605.5" y="215.5" width="4" height="4"/>
<rect x="606.5" y="216.5" width="4" height="4"/>
<rect x="231.5" y="264.5" width="4" height="4"/>
<rect x="243.5" y="244.5" width="4" height="4"/>
<rect x="396.5" y="241.5" width="4" height="4"/>
<rect x="422.5" y="220.5" width="4" height="4"/>
<rect x="424.5" y="236.5" width="4" height="4"/>
<rect x="208.5" y="264.5" width="4" height="4"/>
<rect x="196.5" y="262.5" width="4" height="4"/>
<rect x="498.5" y="222.5" width="4" height="4"/>
<rect x="392.5" y="240.5" width="4" height="4"/>
</g>
<g font-family="Liberation Sans, sans-serif">
<text x="347" y="102" font-size="16" font-weight="bold" text-anchor="start" fill="#111" textLength="47.5" lengthAdjust="spacingAndGlyphs">515(8)</text>
<text x="100.5" y="486.6" font-size="13" font-weight="bold" text-anchor="start" fill="#111" textLength="36.2" lengthAdjust="spacingAndGlyphs">0.085</text>
<text x="100.5" y="439.6" font-size="13" font-weight="bold" text-anchor="start" fill="#111" textLength="36.2" lengthAdjust="spacingAndGlyphs">0.090</text>
<text x="100.5" y="394.6" font-size="13" font-weight="bold" text-anchor="start" fill="#111" textLength="36.2" lengthAdjust="spacingAndGlyphs">0.095</text>
<text x="100.5" y="348.6" font-size="13" font-weight="bold" text-anchor="start" fill="#111" textLength="36.2" lengthAdjust="spacingAndGlyphs">0.100</text>
<text x="100.5" y="302.6" font-size="13" font-weight="bold" text-anchor="start" fill="#111" textLength="36.2" lengthAdjust="spacingAndGlyphs">0.105</text>
<text x="100.5" y="255.6" font-size="13" font-weight="bold" text-anchor="start" fill="#111" textLength="36.2" lengthAdjust="spacingAndGlyphs">0.110</text>
<text x="100.5" y="210.6" font-size="13" font-weight="bold" text-anchor="start" fill="#111" textLength="36.2" lengthAdjust="spacingAndGlyphs">0.115</text>
<text x="100.5" y="163.6" font-size="13" font-weight="bold" text-anchor="start" fill="#111" textLength="36.2" lengthAdjust="spacingAndGlyphs">0.120</text>
<text x="124.5" y="510.6" font-size="13.5" font-weight="bold" text-anchor="start" fill="#111" textLength="47.4" lengthAdjust="spacingAndGlyphs">620000</text>
<text x="201.5" y="510.6" font-size="13.5" font-weight="bold" text-anchor="start" fill="#111" textLength="47.4" lengthAdjust="spacingAndGlyphs">630000</text>
<text x="278.5" y="510.6" font-size="13.5" font-weight="bold" text-anchor="start" fill="#111" textLength="47.4" lengthAdjust="spacingAndGlyphs">640000</text>
<text x="355.5" y="510.6" font-size="13.5" font-weight="bold" text-anchor="start" fill="#111" textLength="47.4" lengthAdjust="spacingAndGlyphs">650000</text>
<text x="432.5" y="510.6" font-size="13.5" font-weight="bold" text-anchor="start" fill="#111" textLength="47.4" lengthAdjust="spacingAndGlyphs">660000</text>
<text x="509.5" y="510.6" font-size="13.5" font-weight="bold" text-anchor="start" fill="#111" textLength="47.4" lengthAdjust="spacingAndGlyphs">670000</text>
<text x="586.5" y="510.6" font-size="13.5" font-weight="bold" text-anchor="start" fill="#111" textLength="47.4" lengthAdjust="spacingAndGlyphs">680000</text>
<text x="369" y="540.6" font-size="15" font-weight="bold" text-anchor="start" fill="#111" textLength="45.8" lengthAdjust="spacingAndGlyphs">time, s</text>
<text x="626" y="209" font-size="13" font-weight="bold" text-anchor="start" fill="#111" textLength="18.5" lengthAdjust="spacingAndGlyphs">4.5</text>
<text x="626" y="301" font-size="13" font-weight="bold" text-anchor="start" fill="#111" textLength="8" lengthAdjust="spacingAndGlyphs">4</text>
<text x="626" y="393" font-size="13" font-weight="bold" text-anchor="start" fill="#111" textLength="18.5" lengthAdjust="spacingAndGlyphs">3.5</text>
<text x="626" y="485.3" font-size="13" font-weight="bold" text-anchor="start" fill="#111" textLength="8" lengthAdjust="spacingAndGlyphs">3</text>
<rect x="513" y="437.5" width="80" height="31.5" fill="#fff"/>
<text x="515.4" y="448.8" font-size="12.5" font-weight="bold" text-anchor="start" fill="#111" textLength="74" lengthAdjust="spacingAndGlyphs">P = 100 MPa</text>
<text x="515.4" y="464.8" font-size="12.5" font-weight="bold" text-anchor="start" fill="#111" textLength="59.8" lengthAdjust="spacingAndGlyphs">T = 220 K</text>
<rect x="336" y="298.5" width="237.5" height="14" fill="#fff"/>
<rect x="352" y="394.5" width="237" height="15" fill="#fff"/>
<text x="338" y="310.8" font-size="12" font-weight="normal" text-anchor="start" fill="#b01c24" textLength="234" lengthAdjust="spacingAndGlyphs" xml:space="preserve">y = -0.032134 + 1.9863e-07x&#160;&#160;&#160;R= 0.99614</text>
<text x="354" y="406.6" font-size="12" font-weight="normal" text-anchor="start" fill="#b01c24" textLength="232" lengthAdjust="spacingAndGlyphs" xml:space="preserve">y = -0.052517 + 2.2902e-07x&#160;&#160;&#160;R= 0.99789</text>
<text transform="translate(66.8,294.6) rotate(-90)" font-size="14" text-anchor="middle" fill="#111" stroke="#111" stroke-width="0.35" textLength="36.5" lengthAdjust="spacingAndGlyphs">strain</text>
<text transform="translate(686.5,297.8) rotate(90)" font-size="16.5" text-anchor="middle" fill="#111" stroke="#111" stroke-width="0.4" textLength="84" lengthAdjust="spacingAndGlyphs">stress (MPa)</text>
</g>
<rect x="479" y="0" width="254" height="194" fill="#fff"/>
<g fill="none" shape-rendering="crispEdges">
<line x1="524.5" y1="17" x2="524.5" y2="167.5" stroke="#3434a8" stroke-width="1.6"/>
<line x1="527.5" y1="20" x2="527.5" y2="167" stroke="#9a9ad4" stroke-width="1" stroke-dasharray="2 2"/>
<line x1="555.5" y1="20" x2="555.5" y2="167" stroke="#b8b8dc" stroke-width="1" stroke-dasharray="2 1"/>
<line x1="587.5" y1="20" x2="587.5" y2="167" stroke="#3c3cb0" stroke-width="1" stroke-dasharray="2 2"/>
<line x1="650.5" y1="20" x2="650.5" y2="167" stroke="#8484cc" stroke-width="1" stroke-dasharray="2 2"/>
<line x1="713.5" y1="20" x2="713.5" y2="167" stroke="#8c8cd0" stroke-width="1"/>
<line x1="712" y1="27.5" x2="715" y2="27.5" stroke="#7c7cc8" stroke-width="1"/>
<line x1="712" y1="42.5" x2="715" y2="42.5" stroke="#7c7cc8" stroke-width="1"/>
<line x1="712" y1="64.5" x2="715" y2="64.5" stroke="#7c7cc8" stroke-width="1"/>
<line x1="712" y1="78.5" x2="715" y2="78.5" stroke="#7c7cc8" stroke-width="1"/>
<line x1="712" y1="86.5" x2="715" y2="86.5" stroke="#7c7cc8" stroke-width="1"/>
<line x1="712" y1="101.5" x2="715" y2="101.5" stroke="#7c7cc8" stroke-width="1"/>
<line x1="712" y1="115.5" x2="715" y2="115.5" stroke="#7c7cc8" stroke-width="1"/>
<line x1="712" y1="123.5" x2="715" y2="123.5" stroke="#7c7cc8" stroke-width="1"/>
<line x1="712" y1="137.5" x2="715" y2="137.5" stroke="#7c7cc8" stroke-width="1"/>
<line x1="712" y1="152.5" x2="715" y2="152.5" stroke="#7c7cc8" stroke-width="1"/>
<line x1="712" y1="159.5" x2="715" y2="159.5" stroke="#7c7cc8" stroke-width="1"/>
<line x1="525" y1="27.5" x2="527" y2="27.5" stroke="#b0b0e0" stroke-width="1"/>
<line x1="525" y1="34.5" x2="527" y2="34.5" stroke="#b0b0e0" stroke-width="1"/>
<line x1="525" y1="42.5" x2="527" y2="42.5" stroke="#b0b0e0" stroke-width="1"/>
<line x1="525" y1="49.5" x2="527" y2="49.5" stroke="#b0b0e0" stroke-width="1"/>
<line x1="525" y1="56.5" x2="527" y2="56.5" stroke="#b0b0e0" stroke-width="1"/>
<line x1="525" y1="64.5" x2="527" y2="64.5" stroke="#b0b0e0" stroke-width="1"/>
<line x1="525" y1="71.5" x2="527" y2="71.5" stroke="#b0b0e0" stroke-width="1"/>
<line x1="525" y1="78.5" x2="527" y2="78.5" stroke="#b0b0e0" stroke-width="1"/>
<line x1="525" y1="86.5" x2="527" y2="86.5" stroke="#b0b0e0" stroke-width="1"/>
<line x1="525" y1="93.5" x2="527" y2="93.5" stroke="#b0b0e0" stroke-width="1"/>
<line x1="525" y1="101.5" x2="527" y2="101.5" stroke="#b0b0e0" stroke-width="1"/>
<line x1="525" y1="108.5" x2="527" y2="108.5" stroke="#b0b0e0" stroke-width="1"/>
<line x1="525" y1="115.5" x2="527" y2="115.5" stroke="#b0b0e0" stroke-width="1"/>
<line x1="525" y1="123.5" x2="527" y2="123.5" stroke="#b0b0e0" stroke-width="1"/>
<line x1="525" y1="130.5" x2="527" y2="130.5" stroke="#b0b0e0" stroke-width="1"/>
<line x1="525" y1="137.5" x2="527" y2="137.5" stroke="#b0b0e0" stroke-width="1"/>
<line x1="525" y1="145.5" x2="527" y2="145.5" stroke="#b0b0e0" stroke-width="1"/>
<line x1="525" y1="152.5" x2="527" y2="152.5" stroke="#b0b0e0" stroke-width="1"/>
<line x1="525" y1="159.5" x2="527" y2="159.5" stroke="#b0b0e0" stroke-width="1"/>
</g>
<g fill="#555">
<rect x="530.0" y="19.7" width="1" height="1"/>
<rect x="536.3" y="19.7" width="1" height="1"/>
<rect x="542.6" y="19.7" width="1" height="1"/>
<rect x="555.2" y="19.7" width="1" height="1"/>
<rect x="561.5" y="19.7" width="1" height="1"/>
<rect x="567.8" y="19.7" width="1" height="1"/>
<rect x="580.4" y="19.7" width="1" height="1"/>
<rect x="586.7" y="19.7" width="1" height="1"/>
<rect x="593.0" y="19.7" width="1" height="1"/>
<rect x="605.6" y="19.7" width="1" height="1"/>
<rect x="611.9" y="19.7" width="1" height="1"/>
<rect x="618.2" y="19.7" width="1" height="1"/>
<rect x="630.8" y="19.7" width="1" height="1"/>
<rect x="637.1" y="19.7" width="1" height="1"/>
<rect x="643.4" y="19.7" width="1" height="1"/>
<rect x="656.0" y="19.7" width="1" height="1"/>
<rect x="662.3" y="19.7" width="1" height="1"/>
<rect x="668.6" y="19.7" width="1" height="1"/>
<rect x="681.2" y="19.7" width="1" height="1"/>
<rect x="687.5" y="19.7" width="1" height="1"/>
<rect x="693.8" y="19.7" width="1" height="1"/>
<rect x="706.4" y="19.7" width="1" height="1"/>
<rect x="530.0" y="166.7" width="1" height="1"/>
<rect x="536.3" y="166.7" width="1" height="1"/>
<rect x="542.6" y="166.7" width="1" height="1"/>
<rect x="555.2" y="166.7" width="1" height="1"/>
<rect x="561.5" y="166.7" width="1" height="1"/>
<rect x="567.8" y="166.7" width="1" height="1"/>
<rect x="580.4" y="166.7" width="1" height="1"/>
<rect x="586.7" y="166.7" width="1" height="1"/>
<rect x="593.0" y="166.7" width="1" height="1"/>
<rect x="605.6" y="166.7" width="1" height="1"/>
<rect x="611.9" y="166.7" width="1" height="1"/>
<rect x="618.2" y="166.7" width="1" height="1"/>
<rect x="630.8" y="166.7" width="1" height="1"/>
<rect x="637.1" y="166.7" width="1" height="1"/>
<rect x="643.4" y="166.7" width="1" height="1"/>
<rect x="656.0" y="166.7" width="1" height="1"/>
<rect x="662.3" y="166.7" width="1" height="1"/>
<rect x="668.6" y="166.7" width="1" height="1"/>
<rect x="681.2" y="166.7" width="1" height="1"/>
<rect x="687.5" y="166.7" width="1" height="1"/>
<rect x="693.8" y="166.7" width="1" height="1"/>
<rect x="706.4" y="166.7" width="1" height="1"/>
</g>
<g fill="#e0101c">
<rect x="540.0" y="46.9" width="2.0" height="2.0"/>
<rect x="540.1" y="46.1" width="2.0" height="2.0"/>
<rect x="540.6" y="43.5" width="2.0" height="2.0"/>
<rect x="540.5" y="44.4" width="2.0" height="2.0"/>
<rect x="540.5" y="43.1" width="2.0" height="2.0"/>
<rect x="541.0" y="44.6" width="2.0" height="2.0"/>
<rect x="541.1" y="42.2" width="2.0" height="2.0"/>
<rect x="540.7" y="43.0" width="2.0" height="2.0"/>
<rect x="541.3" y="40.3" width="2.0" height="2.0"/>
<rect x="541.1" y="39.5" width="2.0" height="2.0"/>
<rect x="541.3" y="38.9" width="2.0" height="2.0"/>
<rect x="541.9" y="38.1" width="2.0" height="2.0"/>
<rect x="542.0" y="36.4" width="2.0" height="2.0"/>
<rect x="542.5" y="35.9" width="2.0" height="2.0"/>
<rect x="542.0" y="35.7" width="2.0" height="2.0"/>
<rect x="542.5" y="34.1" width="2.0" height="2.0"/>
<rect x="542.9" y="34.7" width="2.0" height="2.0"/>
<rect x="542.9" y="33.5" width="2.0" height="2.0"/>
<rect x="543.8" y="33.6" width="2.0" height="2.0"/>
<rect x="543.7" y="32.4" width="2.0" height="2.0"/>
<rect x="544.0" y="31.5" width="2.0" height="2.0"/>
<rect x="544.6" y="30.7" width="2.0" height="2.0"/>
<rect x="544.3" y="30.1" width="2.0" height="2.0"/>
<rect x="545.1" y="30.1" width="2.0" height="2.0"/>
<rect x="545.6" y="28.9" width="2.0" height="2.0"/>
<rect x="546.7" y="27.1" width="2.0" height="2.0"/>
<rect x="546.5" y="27.4" width="2.0" height="2.0"/>
<rect x="546.7" y="27.7" width="2.0" height="2.0"/>
<rect x="547.9" y="29.6" width="2.0" height="2.0"/>
<rect x="547.9" y="29.5" width="2.0" height="2.0"/>
<rect x="548.7" y="31.0" width="2.0" height="2.0"/>
<rect x="548.7" y="32.9" width="2.0" height="2.0"/>
<rect x="549.3" y="35.3" width="2.0" height="2.0"/>
<rect x="549.4" y="34.3" width="2.0" height="2.0"/>
<rect x="549.3" y="36.7" width="2.0" height="2.0"/>
<rect x="549.8" y="35.4" width="2.0" height="2.0"/>
<rect x="549.7" y="36.7" width="2.0" height="2.0"/>
<rect x="549.8" y="36.7" width="2.0" height="2.0"/>
<rect x="549.6" y="37.5" width="2.0" height="2.0"/>
<rect x="549.7" y="40.0" width="2.0" height="2.0"/>
<rect x="550.4" y="38.4" width="2.0" height="2.0"/>
<rect x="550.8" y="41.3" width="2.0" height="2.0"/>
<rect x="550.2" y="43.0" width="2.0" height="2.0"/>
<rect x="551.0" y="44.0" width="2.0" height="2.0"/>
<rect x="550.7" y="43.2" width="2.0" height="2.0"/>
<rect x="551.3" y="43.6" width="2.0" height="2.0"/>
<rect x="551.4" y="45.2" width="2.0" height="2.0"/>
<rect x="551.2" y="43.6" width="2.0" height="2.0"/>
<rect x="551.4" y="45.1" width="2.0" height="2.0"/>
<rect x="551.7" y="46.7" width="2.0" height="2.0"/>
<rect x="552.1" y="47.1" width="2.0" height="2.0"/>
<rect x="552.1" y="47.4" width="2.0" height="2.0"/>
<rect x="552.7" y="49.3" width="2.0" height="2.0"/>
<rect x="552.6" y="48.9" width="2.0" height="2.0"/>
<rect x="553.2" y="49.4" width="2.0" height="2.0"/>
<rect x="553.1" y="51.9" width="2.0" height="2.0"/>
<rect x="553.1" y="52.3" width="2.0" height="2.0"/>
<rect x="553.1" y="53.2" width="2.0" height="2.0"/>
<rect x="553.6" y="51.3" width="2.0" height="2.0"/>
<rect x="553.9" y="52.8" width="2.0" height="2.0"/>
<rect x="554.2" y="53.7" width="2.0" height="2.0"/>
<rect x="554.0" y="55.4" width="2.0" height="2.0"/>
<rect x="554.2" y="56.1" width="2.0" height="2.0"/>
<rect x="554.3" y="57.2" width="2.0" height="2.0"/>
<rect x="554.6" y="57.5" width="2.0" height="2.0"/>
<rect x="554.3" y="59.2" width="2.0" height="2.0"/>
<rect x="555.4" y="57.0" width="2.0" height="2.0"/>
<rect x="555.9" y="59.9" width="2.0" height="2.0"/>
<rect x="556.5" y="59.1" width="2.0" height="2.0"/>
<rect x="557.0" y="60.8" width="2.0" height="2.0"/>
<rect x="557.7" y="61.5" width="2.0" height="2.0"/>
<rect x="557.6" y="62.0" width="2.0" height="2.0"/>
<rect x="557.6" y="64.2" width="2.0" height="2.0"/>
<rect x="558.5" y="65.3" width="2.0" height="2.0"/>
<rect x="559.2" y="63.0" width="2.0" height="2.0"/>
<rect x="559.4" y="62.6" width="2.0" height="2.0"/>
<rect x="560.3" y="62.2" width="2.0" height="2.0"/>
<rect x="561.5" y="63.9" width="2.0" height="2.0"/>
<rect x="562.1" y="64.2" width="2.0" height="2.0"/>
<rect x="563.0" y="64.8" width="2.0" height="2.0"/>
<rect x="563.8" y="66.1" width="2.0" height="2.0"/>
<rect x="564.0" y="64.3" width="2.0" height="2.0"/>
<rect x="565.1" y="66.5" width="2.0" height="2.0"/>
<rect x="565.6" y="65.3" width="2.0" height="2.0"/>
<rect x="565.8" y="67.5" width="2.0" height="2.0"/>
<rect x="565.7" y="66.3" width="2.0" height="2.0"/>
<rect x="566.4" y="67.1" width="2.0" height="2.0"/>
<rect x="566.8" y="64.4" width="2.0" height="2.0"/>
<rect x="566.2" y="65.1" width="2.0" height="2.0"/>
<rect x="567.0" y="64.0" width="2.0" height="2.0"/>
<rect x="566.6" y="63.9" width="2.0" height="2.0"/>
<rect x="567.3" y="62.9" width="2.0" height="2.0"/>
<rect x="567.2" y="62.0" width="2.0" height="2.0"/>
<rect x="567.7" y="60.4" width="2.0" height="2.0"/>
<rect x="567.2" y="60.5" width="2.0" height="2.0"/>
<rect x="567.9" y="59.5" width="2.0" height="2.0"/>
<rect x="568.2" y="58.1" width="2.0" height="2.0"/>
<rect x="568.1" y="57.7" width="2.0" height="2.0"/>
<rect x="568.5" y="58.9" width="2.0" height="2.0"/>
<rect x="568.4" y="58.6" width="2.0" height="2.0"/>
<rect x="569.1" y="56.6" width="2.0" height="2.0"/>
<rect x="569.0" y="56.8" width="2.0" height="2.0"/>
<rect x="569.0" y="54.2" width="2.0" height="2.0"/>
<rect x="568.9" y="54.1" width="2.0" height="2.0"/>
<rect x="569.7" y="53.4" width="2.0" height="2.0"/>
<rect x="569.7" y="51.9" width="2.0" height="2.0"/>
<rect x="569.8" y="50.0" width="2.0" height="2.0"/>
<rect x="570.2" y="50.3" width="2.0" height="2.0"/>
<rect x="569.8" y="49.2" width="2.0" height="2.0"/>
<rect x="570.1" y="50.1" width="2.0" height="2.0"/>
<rect x="570.7" y="47.1" width="2.0" height="2.0"/>
<rect x="570.9" y="48.6" width="2.0" height="2.0"/>
<rect x="570.7" y="45.5" width="2.0" height="2.0"/>
<rect x="570.8" y="45.7" width="2.0" height="2.0"/>
<rect x="571.3" y="45.2" width="2.0" height="2.0"/>
<rect x="570.9" y="45.1" width="2.0" height="2.0"/>
<rect x="571.2" y="45.0" width="2.0" height="2.0"/>
<rect x="571.4" y="42.7" width="2.0" height="2.0"/>
<rect x="571.7" y="42.1" width="2.0" height="2.0"/>
<rect x="572.4" y="42.8" width="2.0" height="2.0"/>
<rect x="572.4" y="41.5" width="2.0" height="2.0"/>
<rect x="572.1" y="39.9" width="2.0" height="2.0"/>
<rect x="572.5" y="38.8" width="2.0" height="2.0"/>
<rect x="572.9" y="38.3" width="2.0" height="2.0"/>
<rect x="572.9" y="37.2" width="2.0" height="2.0"/>
<rect x="572.8" y="38.1" width="2.0" height="2.0"/>
<rect x="573.9" y="37.0" width="2.0" height="2.0"/>
<rect x="573.6" y="33.4" width="2.0" height="2.0"/>
<rect x="574.2" y="36.6" width="2.0" height="2.0"/>
<rect x="574.5" y="35.6" width="2.0" height="2.0"/>
<rect x="575.0" y="35.0" width="2.0" height="2.0"/>
<rect x="574.8" y="34.2" width="2.0" height="2.0"/>
<rect x="575.4" y="30.9" width="2.0" height="2.0"/>
<rect x="575.3" y="30.3" width="2.0" height="2.0"/>
<rect x="575.7" y="31.6" width="2.0" height="2.0"/>
<rect x="576.1" y="29.3" width="2.0" height="2.0"/>
<rect x="577.3" y="32.1" width="2.0" height="2.0"/>
<rect x="578.0" y="30.8" width="2.0" height="2.0"/>
<rect x="578.6" y="34.6" width="2.0" height="2.0"/>
<rect x="579.4" y="32.8" width="2.0" height="2.0"/>
<rect x="579.5" y="33.3" width="2.0" height="2.0"/>
<rect x="580.2" y="35.0" width="2.0" height="2.0"/>
<rect x="580.4" y="31.8" width="2.0" height="2.0"/>
<rect x="580.9" y="31.9" width="2.0" height="2.0"/>
<rect x="581.3" y="31.9" width="2.0" height="2.0"/>
<rect x="581.9" y="31.9" width="2.0" height="2.0"/>
<rect x="581.8" y="30.3" width="2.0" height="2.0"/>
<rect x="582.9" y="28.7" width="2.0" height="2.0"/>
<rect x="583.1" y="29.7" width="2.0" height="2.0"/>
<rect x="583.8" y="28.3" width="2.0" height="2.0"/>
<rect x="583.7" y="25.7" width="2.0" height="2.0"/>
<rect x="584.4" y="26.7" width="2.0" height="2.0"/>
<rect x="585.4" y="24.7" width="2.0" height="2.0"/>
<rect x="585.4" y="25.6" width="2.0" height="2.0"/>
<rect x="585.1" y="23.3" width="2.0" height="2.0"/>
<rect x="586.0" y="22.9" width="2.0" height="2.0"/>
<rect x="586.3" y="23.2" width="2.0" height="2.0"/>
<rect x="586.3" y="23.9" width="2.0" height="2.0"/>
<rect x="586.6" y="23.6" width="2.0" height="2.0"/>
<rect x="587.1" y="24.3" width="2.0" height="2.0"/>
<rect x="587.3" y="27.2" width="2.0" height="2.0"/>
<rect x="587.4" y="26.2" width="2.0" height="2.0"/>
<rect x="587.8" y="26.7" width="2.0" height="2.0"/>
<rect x="588.1" y="26.5" width="2.0" height="2.0"/>
<rect x="588.2" y="28.0" width="2.0" height="2.0"/>
<rect x="588.1" y="31.0" width="2.0" height="2.0"/>
<rect x="588.3" y="31.8" width="2.0" height="2.0"/>
<rect x="588.8" y="32.2" width="2.0" height="2.0"/>
<rect x="588.5" y="32.7" width="2.0" height="2.0"/>
<rect x="589.3" y="32.2" width="2.0" height="2.0"/>
<rect x="589.0" y="35.5" width="2.0" height="2.0"/>
<rect x="589.2" y="33.4" width="2.0" height="2.0"/>
<rect x="589.1" y="35.0" width="2.0" height="2.0"/>
<rect x="589.5" y="35.5" width="2.0" height="2.0"/>
<rect x="590.0" y="35.8" width="2.0" height="2.0"/>
<rect x="589.8" y="38.3" width="2.0" height="2.0"/>
<rect x="589.6" y="38.7" width="2.0" height="2.0"/>
<rect x="590.4" y="37.0" width="2.0" height="2.0"/>
<rect x="589.8" y="38.1" width="2.0" height="2.0"/>
<rect x="589.7" y="40.4" width="2.0" height="2.0"/>
<rect x="589.9" y="41.2" width="2.0" height="2.0"/>
<rect x="590.8" y="39.8" width="2.0" height="2.0"/>
<rect x="590.5" y="40.3" width="2.0" height="2.0"/>
<rect x="590.9" y="42.2" width="2.0" height="2.0"/>
<rect x="590.8" y="43.8" width="2.0" height="2.0"/>
<rect x="591.1" y="44.2" width="2.0" height="2.0"/>
<rect x="591.1" y="44.7" width="2.0" height="2.0"/>
<rect x="591.3" y="44.9" width="2.0" height="2.0"/>
<rect x="591.4" y="44.9" width="2.0" height="2.0"/>
<rect x="591.4" y="49.5" width="2.0" height="2.0"/>
<rect x="591.7" y="47.1" width="2.0" height="2.0"/>
<rect x="591.9" y="48.1" width="2.0" height="2.0"/>
<rect x="591.5" y="49.1" width="2.0" height="2.0"/>
<rect x="592.3" y="51.0" width="2.0" height="2.0"/>
<rect x="592.2" y="50.4" width="2.0" height="2.0"/>
<rect x="592.1" y="53.5" width="2.0" height="2.0"/>
<rect x="592.6" y="51.9" width="2.0" height="2.0"/>
<rect x="592.1" y="52.3" width="2.0" height="2.0"/>
<rect x="593.4" y="53.3" width="2.0" height="2.0"/>
<rect x="592.9" y="55.4" width="2.0" height="2.0"/>
<rect x="593.0" y="55.7" width="2.0" height="2.0"/>
<rect x="592.8" y="55.7" width="2.0" height="2.0"/>
<rect x="593.7" y="56.7" width="2.0" height="2.0"/>
<rect x="593.7" y="56.5" width="2.0" height="2.0"/>
<rect x="593.5" y="59.3" width="2.0" height="2.0"/>
<rect x="594.0" y="58.7" width="2.0" height="2.0"/>
<rect x="594.1" y="60.9" width="2.0" height="2.0"/>
<rect x="593.9" y="61.8" width="2.0" height="2.0"/>
<rect x="594.0" y="61.3" width="2.0" height="2.0"/>
<rect x="594.4" y="60.2" width="2.0" height="2.0"/>
<rect x="594.5" y="62.6" width="2.0" height="2.0"/>
<rect x="594.3" y="64.0" width="2.0" height="2.0"/>
<rect x="595.0" y="64.8" width="2.0" height="2.0"/>
<rect x="595.3" y="64.8" width="2.0" height="2.0"/>
<rect x="594.8" y="68.3" width="2.0" height="2.0"/>
<rect x="595.4" y="68.5" width="2.0" height="2.0"/>
<rect x="595.2" y="69.1" width="2.0" height="2.0"/>
<rect x="595.6" y="69.7" width="2.0" height="2.0"/>
<rect x="595.7" y="71.0" width="2.0" height="2.0"/>
<rect x="595.7" y="69.6" width="2.0" height="2.0"/>
<rect x="595.7" y="72.5" width="2.0" height="2.0"/>
<rect x="596.0" y="71.1" width="2.0" height="2.0"/>
<rect x="596.1" y="72.5" width="2.0" height="2.0"/>
<rect x="596.2" y="73.4" width="2.0" height="2.0"/>
<rect x="597.3" y="73.3" width="2.0" height="2.0"/>
<rect x="598.3" y="74.0" width="2.0" height="2.0"/>
<rect x="598.9" y="74.8" width="2.0" height="2.0"/>
<rect x="599.6" y="75.8" width="2.0" height="2.0"/>
<rect x="599.6" y="75.7" width="2.0" height="2.0"/>
<rect x="600.2" y="76.2" width="2.0" height="2.0"/>
<rect x="600.2" y="74.0" width="2.0" height="2.0"/>
<rect x="600.8" y="73.7" width="2.0" height="2.0"/>
<rect x="601.4" y="72.8" width="2.0" height="2.0"/>
<rect x="601.7" y="71.1" width="2.0" height="2.0"/>
<rect x="601.2" y="73.1" width="2.0" height="2.0"/>
<rect x="602.1" y="71.6" width="2.0" height="2.0"/>
<rect x="602.2" y="70.9" width="2.0" height="2.0"/>
<rect x="602.2" y="70.6" width="2.0" height="2.0"/>
<rect x="602.6" y="69.9" width="2.0" height="2.0"/>
<rect x="603.0" y="66.2" width="2.0" height="2.0"/>
<rect x="603.0" y="68.6" width="2.0" height="2.0"/>
<rect x="603.7" y="66.4" width="2.0" height="2.0"/>
<rect x="604.2" y="65.6" width="2.0" height="2.0"/>
<rect x="604.3" y="65.4" width="2.0" height="2.0"/>
<rect x="604.9" y="66.1" width="2.0" height="2.0"/>
<rect x="605.2" y="65.8" width="2.0" height="2.0"/>
<rect x="606.0" y="64.9" width="2.0" height="2.0"/>
<rect x="606.2" y="62.6" width="2.0" height="2.0"/>
<rect x="606.4" y="61.6" width="2.0" height="2.0"/>
<rect x="606.5" y="60.9" width="2.0" height="2.0"/>
<rect x="607.1" y="63.3" width="2.0" height="2.0"/>
<rect x="608.0" y="61.8" width="2.0" height="2.0"/>
<rect x="607.9" y="62.8" width="2.0" height="2.0"/>
<rect x="608.9" y="62.4" width="2.0" height="2.0"/>
<rect x="609.7" y="61.4" width="2.0" height="2.0"/>
<rect x="611.1" y="63.7" width="2.0" height="2.0"/>
<rect x="612.4" y="63.9" width="2.0" height="2.0"/>
<rect x="612.4" y="65.6" width="2.0" height="2.0"/>
<rect x="613.3" y="64.4" width="2.0" height="2.0"/>
<rect x="613.9" y="63.8" width="2.0" height="2.0"/>
<rect x="615.1" y="65.6" width="2.0" height="2.0"/>
<rect x="615.6" y="64.9" width="2.0" height="2.0"/>
<rect x="615.6" y="65.1" width="2.0" height="2.0"/>
<rect x="616.3" y="65.2" width="2.0" height="2.0"/>
<rect x="616.7" y="68.4" width="2.0" height="2.0"/>
<rect x="617.4" y="67.0" width="2.0" height="2.0"/>
<rect x="617.7" y="67.9" width="2.0" height="2.0"/>
<rect x="617.7" y="68.0" width="2.0" height="2.0"/>
<rect x="618.7" y="71.6" width="2.0" height="2.0"/>
<rect x="618.7" y="68.6" width="2.0" height="2.0"/>
<rect x="619.2" y="71.2" width="2.0" height="2.0"/>
<rect x="620.0" y="67.4" width="2.0" height="2.0"/>
<rect x="619.8" y="66.6" width="2.0" height="2.0"/>
<rect x="620.9" y="68.5" width="2.0" height="2.0"/>
<rect x="621.0" y="65.3" width="2.0" height="2.0"/>
<rect x="621.4" y="63.4" width="2.0" height="2.0"/>
<rect x="622.2" y="63.5" width="2.0" height="2.0"/>
<rect x="623.0" y="63.3" width="2.0" height="2.0"/>
<rect x="623.2" y="65.6" width="2.0" height="2.0"/>
<rect x="624.0" y="66.5" width="2.0" height="2.0"/>
<rect x="625.0" y="64.9" width="2.0" height="2.0"/>
<rect x="625.9" y="67.2" width="2.0" height="2.0"/>
<rect x="625.6" y="67.6" width="2.0" height="2.0"/>
<rect x="626.7" y="65.8" width="2.0" height="2.0"/>
<rect x="626.5" y="63.7" width="2.0" height="2.0"/>
<rect x="627.3" y="64.8" width="2.0" height="2.0"/>
<rect x="627.4" y="62.2" width="2.0" height="2.0"/>
<rect x="627.7" y="62.1" width="2.0" height="2.0"/>
<rect x="628.7" y="60.0" width="2.0" height="2.0"/>
<rect x="628.8" y="62.9" width="2.0" height="2.0"/>
<rect x="629.7" y="63.7" width="2.0" height="2.0"/>
<rect x="629.6" y="62.5" width="2.0" height="2.0"/>
<rect x="629.8" y="63.7" width="2.0" height="2.0"/>
<rect x="630.4" y="65.0" width="2.0" height="2.0"/>
<rect x="631.2" y="66.0" width="2.0" height="2.0"/>
<rect x="630.8" y="67.9" width="2.0" height="2.0"/>
<rect x="631.8" y="65.9" width="2.0" height="2.0"/>
<rect x="631.9" y="63.4" width="2.0" height="2.0"/>
<rect x="632.3" y="65.6" width="2.0" height="2.0"/>
<rect x="632.8" y="62.8" width="2.0" height="2.0"/>
<rect x="633.5" y="63.7" width="2.0" height="2.0"/>
<rect x="634.4" y="64.4" width="2.0" height="2.0"/>
<rect x="635.4" y="63.2" width="2.0" height="2.0"/>
<rect x="636.1" y="63.3" width="2.0" height="2.0"/>
<rect x="636.8" y="64.8" width="2.0" height="2.0"/>
<rect x="636.8" y="66.3" width="2.0" height="2.0"/>
<rect x="636.9" y="67.3" width="2.0" height="2.0"/>
<rect x="637.2" y="67.1" width="2.0" height="2.0"/>
<rect x="637.0" y="67.0" width="2.0" height="2.0"/>
<rect x="637.1" y="68.3" width="2.0" height="2.0"/>
<rect x="637.4" y="72.3" width="2.0" height="2.0"/>
<rect x="637.7" y="70.8" width="2.0" height="2.0"/>
<rect x="637.4" y="70.1" width="2.0" height="2.0"/>
<rect x="637.7" y="71.8" width="2.0" height="2.0"/>
<rect x="637.6" y="74.0" width="2.0" height="2.0"/>
<rect x="637.9" y="74.2" width="2.0" height="2.0"/>
<rect x="637.6" y="73.9" width="2.0" height="2.0"/>
<rect x="638.3" y="74.9" width="2.0" height="2.0"/>
<rect x="638.6" y="75.8" width="2.0" height="2.0"/>
<rect x="638.7" y="74.3" width="2.0" height="2.0"/>
<rect x="638.8" y="74.6" width="2.0" height="2.0"/>
<rect x="639.4" y="78.0" width="2.0" height="2.0"/>
<rect x="639.5" y="77.6" width="2.0" height="2.0"/>
<rect x="639.7" y="81.0" width="2.0" height="2.0"/>
<rect x="640.6" y="79.8" width="2.0" height="2.0"/>
<rect x="640.7" y="79.0" width="2.0" height="2.0"/>
<rect x="640.2" y="80.8" width="2.0" height="2.0"/>
<rect x="640.8" y="81.4" width="2.0" height="2.0"/>
<rect x="641.8" y="84.6" width="2.0" height="2.0"/>
<rect x="642.3" y="81.2" width="2.0" height="2.0"/>
<rect x="643.2" y="80.7" width="2.0" height="2.0"/>
<rect x="644.1" y="82.1" width="2.0" height="2.0"/>
<rect x="644.3" y="80.1" width="2.0" height="2.0"/>
<rect x="644.9" y="79.6" width="2.0" height="2.0"/>
<rect x="644.9" y="76.8" width="2.0" height="2.0"/>
<rect x="645.0" y="78.4" width="2.0" height="2.0"/>
<rect x="645.9" y="77.2" width="2.0" height="2.0"/>
<rect x="645.6" y="76.1" width="2.0" height="2.0"/>
<rect x="646.3" y="74.4" width="2.0" height="2.0"/>
<rect x="646.6" y="75.8" width="2.0" height="2.0"/>
<rect x="647.3" y="74.4" width="2.0" height="2.0"/>
<rect x="647.6" y="73.1" width="2.0" height="2.0"/>
<rect x="648.2" y="74.0" width="2.0" height="2.0"/>
<rect x="649.1" y="74.1" width="2.0" height="2.0"/>
<rect x="649.6" y="74.2" width="2.0" height="2.0"/>
<rect x="650.2" y="76.8" width="2.0" height="2.0"/>
<rect x="651.2" y="75.2" width="2.0" height="2.0"/>
<rect x="651.9" y="75.4" width="2.0" height="2.0"/>
<rect x="651.2" y="74.0" width="2.0" height="2.0"/>
<rect x="652.1" y="74.4" width="2.0" height="2.0"/>
<rect x="652.5" y="72.5" width="2.0" height="2.0"/>
<rect x="652.1" y="70.1" width="2.0" height="2.0"/>
<rect x="652.7" y="70.7" width="2.0" height="2.0"/>
<rect x="652.7" y="69.1" width="2.0" height="2.0"/>
<rect x="653.1" y="68.8" width="2.0" height="2.0"/>
<rect x="653.6" y="67.6" width="2.0" height="2.0"/>
<rect x="653.4" y="68.4" width="2.0" height="2.0"/>
<rect x="654.4" y="66.3" width="2.0" height="2.0"/>
<rect x="654.4" y="66.1" width="2.0" height="2.0"/>
<rect x="654.5" y="65.4" width="2.0" height="2.0"/>
<rect x="654.3" y="64.7" width="2.0" height="2.0"/>
<rect x="654.9" y="62.5" width="2.0" height="2.0"/>
<rect x="655.3" y="64.7" width="2.0" height="2.0"/>
<rect x="655.5" y="63.9" width="2.0" height="2.0"/>
<rect x="655.4" y="60.8" width="2.0" height="2.0"/>
<rect x="655.2" y="59.6" width="2.0" height="2.0"/>
<rect x="655.6" y="59.6" width="2.0" height="2.0"/>
<rect x="655.9" y="56.8" width="2.0" height="2.0"/>
<rect x="656.4" y="60.4" width="2.0" height="2.0"/>
<rect x="656.0" y="58.0" width="2.0" height="2.0"/>
<rect x="656.3" y="56.9" width="2.0" height="2.0"/>
<rect x="656.3" y="57.2" width="2.0" height="2.0"/>
<rect x="656.3" y="58.3" width="2.0" height="2.0"/>
<rect x="656.7" y="59.2" width="2.0" height="2.0"/>
<rect x="656.7" y="59.7" width="2.0" height="2.0"/>
<rect x="657.1" y="61.0" width="2.0" height="2.0"/>
<rect x="656.9" y="61.5" width="2.0" height="2.0"/>
<rect x="657.6" y="62.5" width="2.0" height="2.0"/>
<rect x="657.5" y="62.1" width="2.0" height="2.0"/>
<rect x="657.7" y="64.1" width="2.0" height="2.0"/>
<rect x="658.3" y="64.0" width="2.0" height="2.0"/>
<rect x="657.9" y="65.3" width="2.0" height="2.0"/>
<rect x="658.3" y="64.7" width="2.0" height="2.0"/>
<rect x="658.2" y="66.3" width="2.0" height="2.0"/>
<rect x="659.0" y="75.0" width="1.9" height="1.9"/>
<rect x="659.6" y="82.0" width="1.9" height="1.9"/>
<rect x="660.0" y="90.7" width="1.9" height="1.9"/>
<rect x="661.0" y="99.0" width="1.9" height="1.9"/>
<rect x="661.4" y="109.0" width="1.9" height="1.9"/>
<rect x="662.2" y="118.0" width="1.9" height="1.9"/>
<rect x="662.6" y="122.0" width="1.9" height="1.9"/>
<rect x="663.0" y="128.0" width="1.9" height="1.9"/>
<rect x="663.4" y="133.0" width="1.9" height="1.9"/>
<rect x="663.8" y="138.2" width="1.9" height="1.9"/>
<rect x="664.3" y="135.0" width="1.9" height="1.9"/>
<rect x="665.0" y="128.0" width="1.9" height="1.9"/>
<rect x="665.7" y="123.0" width="1.9" height="1.9"/>
<rect x="666.7" y="119.0" width="1.9" height="1.9"/>
<rect x="667.5" y="113.0" width="1.9" height="1.9"/>
<rect x="668.0" y="107.0" width="1.9" height="1.9"/>
<rect x="668.4" y="101.0" width="1.9" height="1.9"/>
<rect x="669.0" y="97.0" width="1.9" height="1.9"/>
<rect x="669.5" y="92.0" width="1.9" height="1.9"/>
<rect x="670.0" y="87.0" width="1.9" height="1.9"/>
<rect x="670.6" y="82.0" width="1.9" height="1.9"/>
<rect x="671.5" y="75.0" width="1.9" height="1.9"/>
<rect x="671.7" y="73.8" width="2.0" height="2.0"/>
<rect x="671.4" y="74.7" width="2.0" height="2.0"/>
<rect x="671.6" y="73.6" width="2.0" height="2.0"/>
<rect x="672.2" y="72.6" width="2.0" height="2.0"/>
<rect x="672.0" y="71.9" width="2.0" height="2.0"/>
<rect x="672.4" y="71.6" width="2.0" height="2.0"/>
<rect x="672.4" y="71.6" width="2.0" height="2.0"/>
<rect x="672.4" y="69.6" width="2.0" height="2.0"/>
<rect x="673.0" y="70.0" width="2.0" height="2.0"/>
<rect x="673.2" y="68.7" width="2.0" height="2.0"/>
<rect x="673.7" y="68.1" width="2.0" height="2.0"/>
<rect x="674.6" y="66.2" width="2.0" height="2.0"/>
<rect x="674.7" y="64.9" width="2.0" height="2.0"/>
<rect x="675.2" y="66.2" width="2.0" height="2.0"/>
<rect x="675.4" y="63.2" width="2.0" height="2.0"/>
<rect x="675.9" y="64.7" width="2.0" height="2.0"/>
<rect x="676.5" y="63.7" width="2.0" height="2.0"/>
<rect x="676.1" y="61.5" width="2.0" height="2.0"/>
<rect x="677.4" y="60.3" width="2.0" height="2.0"/>
<rect x="678.0" y="63.6" width="2.0" height="2.0"/>
<rect x="678.7" y="63.1" width="2.0" height="2.0"/>
<rect x="678.5" y="60.0" width="2.0" height="2.0"/>
<rect x="678.7" y="60.2" width="2.0" height="2.0"/>
<rect x="678.8" y="60.4" width="2.0" height="2.0"/>
<rect x="678.9" y="59.1" width="2.0" height="2.0"/>
<rect x="679.2" y="58.1" width="2.0" height="2.0"/>
<rect x="679.6" y="57.8" width="2.0" height="2.0"/>
<rect x="679.3" y="56.3" width="2.0" height="2.0"/>
<rect x="679.2" y="57.1" width="2.0" height="2.0"/>
<rect x="679.5" y="53.9" width="2.0" height="2.0"/>
<rect x="679.6" y="54.1" width="2.0" height="2.0"/>
<rect x="679.9" y="54.6" width="2.0" height="2.0"/>
<rect x="680.0" y="53.2" width="2.0" height="2.0"/>
<rect x="680.5" y="50.8" width="2.0" height="2.0"/>
<rect x="680.8" y="51.2" width="2.0" height="2.0"/>
<rect x="681.1" y="50.0" width="2.0" height="2.0"/>
<rect x="681.3" y="48.1" width="2.0" height="2.0"/>
<rect x="681.2" y="49.8" width="2.0" height="2.0"/>
<rect x="682.1" y="48.3" width="2.0" height="2.0"/>
<rect x="682.1" y="48.6" width="2.0" height="2.0"/>
<rect x="682.0" y="46.0" width="2.0" height="2.0"/>
<rect x="683.1" y="46.7" width="2.0" height="2.0"/>
<rect x="683.0" y="43.4" width="2.0" height="2.0"/>
<rect x="684.0" y="44.8" width="2.0" height="2.0"/>
<rect x="683.6" y="45.5" width="2.0" height="2.0"/>
<rect x="684.3" y="43.6" width="2.0" height="2.0"/>
<rect x="684.6" y="47.7" width="2.0" height="2.0"/>
<rect x="684.0" y="48.6" width="2.0" height="2.0"/>
<rect x="684.3" y="49.7" width="2.0" height="2.0"/>
<rect x="685.1" y="51.7" width="2.0" height="2.0"/>
<rect x="685.1" y="50.2" width="2.0" height="2.0"/>
<rect x="685.8" y="50.4" width="2.0" height="2.0"/>
<rect x="685.5" y="51.4" width="2.0" height="2.0"/>
<rect x="685.9" y="51.5" width="2.0" height="2.0"/>
<rect x="686.2" y="53.9" width="2.0" height="2.0"/>
<rect x="686.3" y="55.9" width="2.0" height="2.0"/>
<rect x="686.4" y="56.3" width="2.0" height="2.0"/>
<rect x="686.6" y="56.6" width="2.0" height="2.0"/>
<rect x="686.4" y="56.8" width="2.0" height="2.0"/>
<rect x="687.1" y="56.9" width="2.0" height="2.0"/>
<rect x="687.1" y="57.9" width="2.0" height="2.0"/>
<rect x="687.3" y="56.8" width="2.0" height="2.0"/>
<rect x="687.5" y="59.3" width="2.0" height="2.0"/>
<rect x="687.7" y="59.5" width="2.0" height="2.0"/>
<rect x="687.9" y="62.2" width="2.0" height="2.0"/>
<rect x="688.0" y="61.7" width="2.0" height="2.0"/>
<rect x="688.6" y="64.0" width="2.0" height="2.0"/>
<rect x="688.6" y="65.0" width="2.0" height="2.0"/>
<rect x="688.5" y="64.5" width="2.0" height="2.0"/>
<rect x="689.0" y="64.8" width="2.0" height="2.0"/>
<rect x="688.8" y="66.6" width="2.0" height="2.0"/>
<rect x="689.1" y="66.7" width="2.0" height="2.0"/>
<rect x="689.4" y="67.6" width="2.0" height="2.0"/>
<rect x="689.5" y="69.6" width="2.0" height="2.0"/>
<rect x="689.6" y="70.1" width="2.0" height="2.0"/>
<rect x="689.3" y="68.8" width="2.0" height="2.0"/>
<rect x="689.6" y="71.4" width="2.0" height="2.0"/>
<rect x="690.3" y="70.5" width="2.0" height="2.0"/>
<rect x="690.2" y="71.6" width="2.0" height="2.0"/>
<rect x="690.3" y="73.0" width="2.0" height="2.0"/>
<rect x="691.0" y="74.2" width="2.0" height="2.0"/>
<rect x="691.5" y="73.7" width="2.0" height="2.0"/>
<rect x="691.8" y="76.4" width="2.0" height="2.0"/>
<rect x="692.0" y="76.7" width="2.0" height="2.0"/>
<rect x="692.3" y="74.4" width="2.0" height="2.0"/>
<rect x="692.9" y="74.1" width="2.0" height="2.0"/>
<rect x="694.2" y="73.6" width="2.0" height="2.0"/>
<rect x="694.3" y="73.5" width="2.0" height="2.0"/>
<rect x="694.5" y="73.4" width="2.0" height="2.0"/>
<rect x="694.7" y="72.8" width="2.0" height="2.0"/>
<rect x="695.7" y="69.9" width="2.0" height="2.0"/>
<rect x="696.5" y="71.5" width="2.0" height="2.0"/>
<rect x="697.2" y="72.1" width="2.0" height="2.0"/>
<rect x="697.7" y="70.5" width="2.0" height="2.0"/>
<rect x="698.5" y="68.4" width="2.0" height="2.0"/>
<rect x="699.1" y="67.1" width="2.0" height="2.0"/>
<rect x="699.0" y="68.4" width="2.0" height="2.0"/>
<rect x="699.5" y="67.0" width="2.0" height="2.0"/>
<rect x="699.9" y="66.5" width="2.0" height="2.0"/>
<rect x="700.6" y="66.1" width="2.0" height="2.0"/>
<rect x="701.2" y="65.6" width="2.0" height="2.0"/>
<rect x="702.1" y="64.7" width="2.0" height="2.0"/>
<rect x="702.5" y="65.5" width="2.0" height="2.0"/>
<rect x="702.6" y="63.5" width="2.0" height="2.0"/>
<rect x="703.3" y="65.8" width="2.0" height="2.0"/>
<rect x="703.5" y="67.9" width="2.0" height="2.0"/>
<rect x="703.5" y="67.4" width="2.0" height="2.0"/>
<rect x="704.7" y="67.1" width="2.0" height="2.0"/>
<rect x="705.7" y="68.1" width="2.0" height="2.0"/>
<rect x="706.3" y="67.2" width="2.0" height="2.0"/>
<rect x="706.9" y="66.8" width="2.0" height="2.0"/>
<rect x="707.0" y="67.1" width="2.0" height="2.0"/>
<rect x="706.5" y="64.8" width="2.0" height="2.0"/>
<rect x="707.1" y="65.4" width="2.0" height="2.0"/>
<rect x="707.5" y="65.1" width="2.0" height="2.0"/>
<rect x="707.7" y="63.2" width="2.0" height="2.0"/>
<rect x="707.5" y="63.5" width="2.0" height="2.0"/>
<rect x="707.7" y="63.0" width="2.0" height="2.0"/>
<rect x="707.5" y="61.8" width="2.0" height="2.0"/>
<rect x="708.0" y="58.4" width="2.0" height="2.0"/>
<rect x="708.5" y="59.9" width="2.0" height="2.0"/>
<rect x="708.4" y="57.8" width="2.0" height="2.0"/>
<rect x="708.4" y="59.6" width="2.0" height="2.0"/>
<rect x="708.5" y="53.8" width="2.0" height="2.0"/>
<rect x="708.7" y="55.4" width="2.0" height="2.0"/>
<rect x="709.1" y="55.5" width="2.0" height="2.0"/>
<rect x="709.2" y="54.3" width="2.0" height="2.0"/>
<rect x="709.9" y="52.9" width="2.0" height="2.0"/>
<rect x="710.4" y="53.1" width="2.0" height="2.0"/>
<rect x="709.8" y="53.7" width="2.0" height="2.0"/>
<rect x="710.5" y="51.2" width="2.0" height="2.0"/>
<rect x="710.8" y="49.6" width="2.0" height="2.0"/>
<rect x="710.6" y="51.9" width="2.0" height="2.0"/>
<rect x="711.0" y="48.7" width="2.0" height="2.0"/>
<rect x="711.4" y="50.2" width="2.0" height="2.0"/>
</g>
<g font-family="Liberation Sans, sans-serif" fill="#111" font-size="8.6">
<text x="497.7" y="21.9" textLength="21.6" lengthAdjust="spacingAndGlyphs">220.0</text>
<text x="497.7" y="58.8" textLength="21.6" lengthAdjust="spacingAndGlyphs">219.5</text>
<text x="497.7" y="95.7" textLength="21.6" lengthAdjust="spacingAndGlyphs">219.0</text>
<text x="497.7" y="132.6" textLength="21.6" lengthAdjust="spacingAndGlyphs">218.5</text>
<text x="497.7" y="169.5" textLength="21.6" lengthAdjust="spacingAndGlyphs">218.0</text>
<text x="509.8" y="176.8" textLength="29.4" lengthAdjust="spacingAndGlyphs">620000</text>
<text x="572.8" y="176.8" textLength="29.4" lengthAdjust="spacingAndGlyphs">640000</text>
<text x="635.8" y="176.8" textLength="29.4" lengthAdjust="spacingAndGlyphs">660000</text>
<text x="698.8" y="176.8" textLength="29.4" lengthAdjust="spacingAndGlyphs">680000</text>
<text x="606.8" y="13" textLength="25.5" lengthAdjust="spacingAndGlyphs">515(8)</text>
<text x="606.6" y="191.5" font-size="8" textLength="25.5" lengthAdjust="spacingAndGlyphs">time, s</text>
<text transform="translate(486.7,94.2) rotate(-90)" font-size="8.6" text-anchor="middle" stroke="#111" stroke-width="0.15" textLength="58" lengthAdjust="spacingAndGlyphs">T (pist 13 mm)</text>
</g>
<rect x="4" y="5" width="301" height="154" fill="#b6b6b6"/>
<line x1="304.5" y1="5" x2="304.5" y2="159" stroke="#444" stroke-width="1" shape-rendering="crispEdges"/>
<line x1="4" y1="80.5" x2="305" y2="80.5" stroke="#6a6a6a" stroke-width="1.4"/>
<line x1="4" y1="83.5" x2="305" y2="83.5" stroke="#cdcdcd" stroke-width="1.4"/>
<line x1="158.5" y1="6.4" x2="204.5" y2="6.4" stroke="#4a4a4a" stroke-width="1.2"/>
<line x1="208.5" y1="6.4" x2="276" y2="6.4" stroke="#4a4a4a" stroke-width="1.2"/>
<rect x="45" y="13" width="248" height="48" fill="#000"/>
<rect x="45" y="61" width="248" height="1" fill="#e6e6e6"/>
<rect x="293" y="13" width="1" height="49" fill="#d8d8d8"/>
<rect x="40.5" y="92" width="253" height="47.6" fill="#000"/>
<rect x="40.5" y="139.6" width="253" height="1" fill="#d8d8d8"/>
<rect x="293.5" y="92" width="1" height="48" fill="#d8d8d8"/>
<g stroke="#111" stroke-width="1" shape-rendering="crispEdges">
<line x1="38.5" y1="13.5" x2="44.5" y2="13.5" stroke-width="2"/>
<line x1="39" y1="37.5" x2="44" y2="37.5"/>
<line x1="38.5" y1="60" x2="44.5" y2="60" stroke-width="2"/>
<line x1="45.5" y1="62" x2="45.5" y2="67"/>
<line x1="292.5" y1="62" x2="292.5" y2="67"/>
<line x1="35" y1="92.5" x2="40" y2="92.5"/>
<line x1="35" y1="115.5" x2="40" y2="115.5"/>
<line x1="35" y1="139" x2="40" y2="139" stroke-width="2"/>
<line x1="41.5" y1="141" x2="41.5" y2="146"/>
<line x1="292.5" y1="141" x2="292.5" y2="146"/>
</g>
<g font-family="Liberation Sans, sans-serif" fill="#111" font-size="9">
<text x="21" y="16.8" textLength="16.5" lengthAdjust="spacingAndGlyphs">0.10</text>
<text x="21" y="40.5" textLength="16.5" lengthAdjust="spacingAndGlyphs">0.05</text>
<text x="17" y="63.5" textLength="20.5" lengthAdjust="spacingAndGlyphs">-0.00</text>
<text x="36" y="75.3" textLength="18.6" lengthAdjust="spacingAndGlyphs">2075</text>
<text x="284" y="75.3" textLength="18.6" lengthAdjust="spacingAndGlyphs">5475</text>
<text x="6" y="96" textLength="27" lengthAdjust="spacingAndGlyphs">0.0210</text>
<text x="6" y="119" textLength="27" lengthAdjust="spacingAndGlyphs">0.0200</text>
<text x="6" y="142.5" textLength="27" lengthAdjust="spacingAndGlyphs">0.0190</text>
<text x="32" y="154.3" textLength="18.6" lengthAdjust="spacingAndGlyphs">2074</text>
<text x="284" y="154.3" textLength="18.6" lengthAdjust="spacingAndGlyphs">5474</text>
</g>
<polyline fill="none" stroke="#fff" stroke-width="1.1" stroke-linejoin="miter" points="45.0,46.3 47.0,46.3 47.0,42.6 50.0,42.6 50.0,46.3 51.5,46.3 51.5,50.2 52.5,50.2 52.5,46.3 54.5,46.3 54.5,42.6 59.0,42.6 59.0,46.3 61.0,46.3 61.0,50.2 62.5,50.2 62.5,46.3 64.0,46.3 64.0,42.6 66.0,42.6 66.0,46.3 68.0,46.3 68.0,50.2 69.5,50.2 69.5,46.3 71.5,46.3 71.5,42.6 75.0,42.6 75.0,46.3 76.5,46.3 76.5,42.6 80.0,42.6 80.0,46.3 83.0,46.3 83.0,42.6 86.0,42.6 86.0,46.3 87.0,46.3 87.0,50.2 88.5,50.2 88.5,42.6 91.0,42.6 91.0,37.0 92.3,37.0 92.3,42.6 95.0,42.6 95.0,46.3 97.0,46.3 97.0,46.3 99.5,46.3 99.5,50.2 100.8,50.2 100.8,46.3 102.0,46.3 102.0,42.6 106.0,42.6 106.0,46.3 109.0,46.3 109.0,46.3 110.0,46.3 110.0,50.2 111.5,50.2 111.5,46.3 113.0,46.3 113.0,42.6 115.5,42.6 115.5,46.3 117.5,46.3 117.5,54.6 118.6,54.6 118.6,46.3 119.5,46.3 119.5,42.6 120.8,42.6 120.8,37.0 122.0,37.0 122.0,42.6 124.0,42.6 124.0,46.3 127.0,46.3 127.0,42.6 129.0,42.6 129.0,46.3 131.0,46.3 131.0,50.2 132.5,50.2 132.5,46.3 134.0,46.3 134.0,42.6 136.0,42.6 136.0,46.3 137.0,46.3 137.0,42.6 138.0,42.6 138.0,46.3 139.0,46.3 139.0,42.6 140.0,42.6 140.0,46.3 152.0,46.3 152.0,42.6 163.0,42.6 163.0,47.0 165.0,47.0 165.0,46.3 169.1,46.3 169.1,50.2 176.0,50.2 176.0,46.3 182.7,46.3 182.7,50.2 185.0,50.2 185.0,46.3 189.5,46.3 189.5,50.2 192.0,50.2 192.0,46.3 197.0,46.3 197.0,50.2 209.0,50.2 209.0,46.3 216.6,46.3 216.6,42.6 221.0,42.6 221.0,46.3 222.5,46.3 222.5,42.6 226.4,42.6 226.4,46.3 231.9,46.3 231.9,50.2 239.5,50.2 239.5,46.3 246.0,46.3 246.0,42.6 249.0,42.6 249.0,46.3 251.5,46.3 251.5,42.6 254.6,42.6 254.6,46.3 256.0,46.3 256.0,50.2 257.0,50.2 257.0,46.3 260.0,46.3 260.0,42.6 265.7,42.6 265.7,46.3 267.5,46.3 267.5,50.2 268.3,50.2 268.3,46.3 269.2,46.3 269.2,50.2 270.0,50.2 270.0,46.3 283.0,46.3 283.0,42.6 287.0,42.6 287.0,46.3 288.5,46.3 288.5,42.6 293.0,42.6 293.0,42.6"/>
<rect x="166.8" y="23" width="1.4" height="25" fill="#fff"/>
<rect x="168.4" y="46" width="1.3" height="13.5" fill="#fff"/>
<polyline fill="none" stroke="#fff" stroke-width="1.5" stroke-linejoin="round" points="40.5,116.0 41.6,116.3 42.6,115.6 43.7,114.5 44.7,115.2 45.8,114.3 46.8,114.3 47.9,116.6 48.9,117.7 50.0,117.5 51.0,116.9 52.0,117.7 53.0,115.8 54.0,114.9 55.0,115.1 56.0,115.3 57.0,116.6 58.0,116.4 59.0,116.6 60.0,116.2 61.0,115.5 62.0,113.8 63.0,113.4 64.0,114.5 65.0,114.8 66.0,116.4 67.0,117.0 68.0,117.3 69.0,116.6 70.0,116.2 71.0,115.4 72.0,114.9 73.0,116.2 74.0,115.7 75.0,116.7 76.0,117.4 77.0,117.3 78.0,115.6 79.0,114.5 80.0,113.4 81.0,113.1 82.0,114.5 83.0,115.0 84.0,115.8 85.0,116.6 86.0,116.7 87.0,116.4 88.0,115.3 89.0,115.0 90.0,115.4 91.0,116.3 92.0,117.1 93.0,117.0 94.0,117.6 95.0,116.8 96.0,116.4 97.0,114.7 98.0,113.6 99.0,114.4 100.0,114.2 101.0,115.2 102.0,115.4 103.0,115.4 104.0,114.9 105.0,113.2 106.0,112.4 107.0,112.9 108.0,112.9 109.0,113.7 110.0,114.6 111.0,114.0 112.0,114.2 113.0,112.4 113.7,110.8 114.3,109.3 115.0,109.1 115.4,109.3 115.8,110.3 116.1,110.9 116.5,112.9 116.8,113.2 117.1,114.8 117.4,116.8 117.7,118.1 118.0,118.9 118.7,118.7 119.3,117.5 120.0,116.0 121.0,116.2 122.0,114.7 123.0,113.8 124.0,113.1 125.0,112.5 126.0,113.5 127.0,114.1 128.0,115.3 129.0,115.5 130.0,115.0 131.0,114.6 132.0,112.6 133.0,112.7 134.0,112.7 135.0,113.2 136.0,113.1 137.0,113.9 138.0,113.9 139.0,113.2 140.0,112.4 141.0,111.3 142.0,111.6 143.0,112.6 144.0,113.6 145.0,115.2 146.0,116.4 147.0,116.2 148.0,115.7 149.0,115.7 150.0,115.4 151.0,115.3 152.0,116.1 153.0,117.8 154.0,118.0 155.0,118.0 156.0,117.4 157.0,115.2 158.0,114.8 159.0,113.5 160.0,112.3 161.0,111.8 163.5,105.6 164.6,107.0 165.2,106.0 165.5,140.0 165.7,140.0 166.1,94.2 166.5,104.0 168.0,111.0 168.0,112.5 169.0,112.6 170.0,110.1 171.0,108.8 172.0,107.0 173.0,107.5 174.0,108.3 175.0,109.7 176.0,112.1 177.0,112.6 178.0,113.3 179.0,113.7 180.0,112.9 181.0,112.4 182.0,112.7 183.0,112.9 184.0,113.5 185.0,114.8 186.0,115.1 187.0,115.6 188.0,113.5 189.0,113.2 190.0,111.7 191.0,111.7 192.0,112.3 193.0,113.5 194.0,114.6 195.0,115.3 196.0,114.2 197.0,114.3 198.0,113.5 199.0,113.3 200.0,113.1 201.0,114.7 202.0,115.5 203.0,116.5 204.0,116.4 205.0,116.3 206.0,115.5 207.0,114.6 208.0,113.6 209.0,114.3 210.0,115.2 211.0,115.5 212.0,117.4 213.0,116.5 214.0,117.1 214.9,116.9 215.8,117.3 216.8,117.4 217.7,118.3 218.6,118.3 219.4,118.3 220.3,119.2 221.1,118.4 222.0,117.3 222.9,116.7 223.7,114.8 224.6,113.7 225.4,112.8 226.3,113.2 227.1,113.1 228.0,112.5 229.0,112.1 230.0,112.4 231.0,111.2 232.0,109.8 233.0,108.4 234.0,107.1 235.0,107.4 235.9,108.6 236.8,109.8 237.6,110.9 238.5,111.9 239.4,112.8 240.2,112.1 241.1,112.4 242.0,112.1 243.0,112.3 244.0,114.2 245.0,115.4 246.0,116.8 247.0,118.2 247.9,117.5 248.8,117.8 249.7,117.5 250.6,117.3 251.5,116.5 252.4,116.6 253.3,116.2 254.2,116.7 255.1,116.6 256.0,116.0 257.0,116.0 258.0,114.0 259.0,112.7 260.0,112.0 261.0,111.6 262.0,112.4 263.0,112.5 264.0,113.7 265.0,113.8 266.0,113.2 267.0,111.4 268.0,110.8 269.0,109.1 270.0,109.1 271.0,108.7 272.0,110.4 273.0,111.4 274.0,112.7 275.0,112.1 276.0,111.1 277.0,111.7 278.0,112.2 279.0,113.2 280.0,115.0 281.0,116.3 282.0,117.1 283.0,116.9 284.0,117.2 285.0,117.1 286.0,116.2 287.0,115.2 288.0,115.2 289.0,115.9 290.0,116.6 291.0,116.2 292.0,114.9 293.0,114.0"/>
</svg>
</body></html>
